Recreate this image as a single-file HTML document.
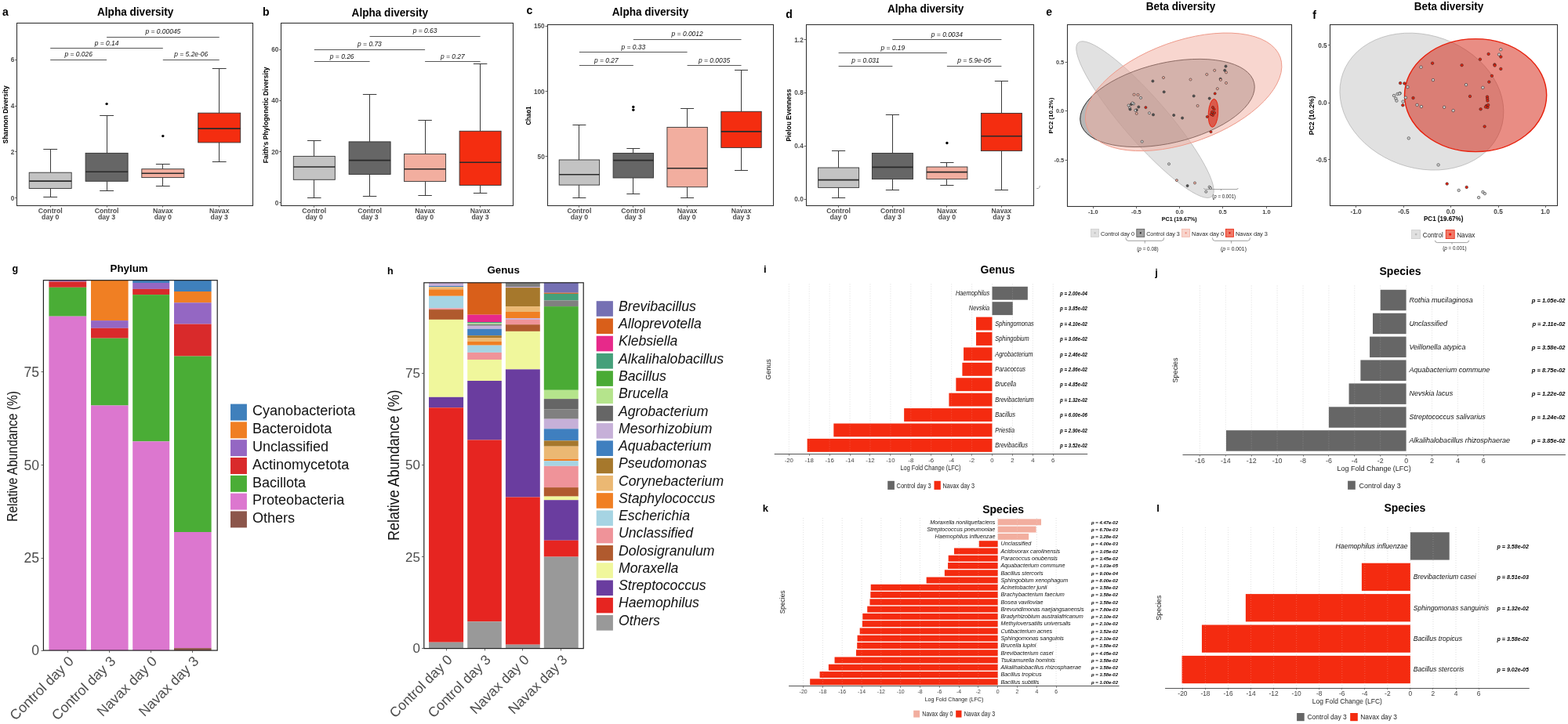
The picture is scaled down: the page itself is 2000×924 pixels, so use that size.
<!DOCTYPE html>
<html><head><meta charset="utf-8"><title>Figure</title>
<style>html,body{margin:0;padding:0;background:#fff;overflow:hidden;width:2000px;height:924px;}svg{display:block;}</style>
</head><body>
<svg width="2000" height="924" viewBox="0 0 2000 924" font-family="&quot;Liberation Sans&quot;, Arial, sans-serif">
<rect width="2000" height="924" fill="#fff"/>
<text x="3.00" y="20.00" font-size="14" font-weight="bold">a</text>
<text x="172.70" y="20.30" font-size="14.4" text-anchor="middle" font-weight="bold" textLength="97.40" lengthAdjust="spacingAndGlyphs">Alpha diversity</text>
<line x1="64.50" y1="190.20" x2="64.50" y2="220.20" stroke="#3a3a3a" stroke-width="1"/>
<line x1="64.50" y1="240.50" x2="64.50" y2="251.90" stroke="#3a3a3a" stroke-width="1"/>
<line x1="55.29" y1="190.50" x2="73.11" y2="190.50" stroke="#3a3a3a" stroke-width="1"/>
<line x1="55.29" y1="251.50" x2="73.11" y2="251.50" stroke="#3a3a3a" stroke-width="1"/>
<rect x="37.20" y="220.20" width="54.00" height="20.30" fill="#c3c3c3" stroke="#333" stroke-width="0.9"/>
<line x1="37.20" y1="231.10" x2="91.20" y2="231.10" stroke="#2a2a2a" stroke-width="1.6"/>
<line x1="136.50" y1="147.50" x2="136.50" y2="195.40" stroke="#3a3a3a" stroke-width="1"/>
<line x1="136.50" y1="231.30" x2="136.50" y2="243.40" stroke="#3a3a3a" stroke-width="1"/>
<line x1="127.19" y1="147.50" x2="145.01" y2="147.50" stroke="#3a3a3a" stroke-width="1"/>
<line x1="127.19" y1="243.50" x2="145.01" y2="243.50" stroke="#3a3a3a" stroke-width="1"/>
<rect x="109.10" y="195.40" width="54.00" height="35.90" fill="#666666" stroke="#333" stroke-width="0.9"/>
<line x1="109.10" y1="219.20" x2="163.10" y2="219.20" stroke="#2a2a2a" stroke-width="1.6"/>
<circle cx="136.10" cy="132.60" r="1.7" fill="#000"/>
<line x1="207.50" y1="209.50" x2="207.50" y2="215.70" stroke="#3a3a3a" stroke-width="1"/>
<line x1="207.50" y1="226.60" x2="207.50" y2="237.50" stroke="#3a3a3a" stroke-width="1"/>
<line x1="198.89" y1="209.50" x2="216.71" y2="209.50" stroke="#3a3a3a" stroke-width="1"/>
<line x1="198.89" y1="237.50" x2="216.71" y2="237.50" stroke="#3a3a3a" stroke-width="1"/>
<rect x="180.80" y="215.70" width="54.00" height="10.90" fill="#f2ae9f" stroke="#333" stroke-width="0.9"/>
<line x1="180.80" y1="221.20" x2="234.80" y2="221.20" stroke="#2a2a2a" stroke-width="1.6"/>
<circle cx="207.80" cy="173.60" r="1.7" fill="#000"/>
<line x1="279.50" y1="87.50" x2="279.50" y2="144.20" stroke="#3a3a3a" stroke-width="1"/>
<line x1="279.50" y1="181.90" x2="279.50" y2="206.50" stroke="#3a3a3a" stroke-width="1"/>
<line x1="270.79" y1="87.50" x2="288.61" y2="87.50" stroke="#3a3a3a" stroke-width="1"/>
<line x1="270.79" y1="206.50" x2="288.61" y2="206.50" stroke="#3a3a3a" stroke-width="1"/>
<rect x="252.70" y="144.20" width="54.00" height="37.70" fill="#f42d10" stroke="#333" stroke-width="0.9"/>
<line x1="252.70" y1="164.10" x2="306.70" y2="164.10" stroke="#2a2a2a" stroke-width="1.6"/>
<line x1="64.20" y1="76.50" x2="136.10" y2="76.50" stroke="#444" stroke-width="0.9"/>
<text x="100.15" y="72.30" font-size="8.45" text-anchor="middle" font-style="italic" fill="#111">p = 0.026</text>
<line x1="64.20" y1="61.50" x2="207.80" y2="61.50" stroke="#444" stroke-width="0.9"/>
<text x="136.00" y="57.50" font-size="8.45" text-anchor="middle" font-style="italic" fill="#111">p = 0.14</text>
<line x1="136.10" y1="47.50" x2="279.70" y2="47.50" stroke="#444" stroke-width="0.9"/>
<text x="207.90" y="43.10" font-size="8.45" text-anchor="middle" font-style="italic" fill="#111">p = 0.00045</text>
<line x1="207.80" y1="76.50" x2="279.70" y2="76.50" stroke="#444" stroke-width="0.9"/>
<text x="243.75" y="72.30" font-size="8.45" text-anchor="middle" font-style="italic" fill="#111">p = 5.2e-06</text>
<rect x="21.50" y="29.50" width="301.00" height="233.00" fill="none" stroke="#333" stroke-width="1.1"/>
<line x1="19.00" y1="252.50" x2="21.50" y2="252.50" stroke="#444" stroke-width="0.8"/>
<text x="18.20" y="255.50" font-size="8.2" text-anchor="end" font-weight="bold" fill="#4d4d4d">0</text>
<line x1="19.00" y1="193.50" x2="21.50" y2="193.50" stroke="#444" stroke-width="0.8"/>
<text x="18.20" y="196.60" font-size="8.2" text-anchor="end" font-weight="bold" fill="#4d4d4d">2</text>
<line x1="19.00" y1="135.50" x2="21.50" y2="135.50" stroke="#444" stroke-width="0.8"/>
<text x="18.20" y="138.10" font-size="8.2" text-anchor="end" font-weight="bold" fill="#4d4d4d">4</text>
<line x1="19.00" y1="76.50" x2="21.50" y2="76.50" stroke="#444" stroke-width="0.8"/>
<text x="18.20" y="79.20" font-size="8.2" text-anchor="end" font-weight="bold" fill="#4d4d4d">6</text>
<line x1="64.50" y1="262.10" x2="64.50" y2="264.60" stroke="#444" stroke-width="0.8"/>
<text x="64.20" y="271.70" font-size="8.7" text-anchor="middle" font-weight="bold" fill="#4d4d4d">Control</text>
<text x="64.20" y="280.30" font-size="8.7" text-anchor="middle" font-weight="bold" fill="#4d4d4d">day 0</text>
<line x1="136.50" y1="262.10" x2="136.50" y2="264.60" stroke="#444" stroke-width="0.8"/>
<text x="136.10" y="271.70" font-size="8.7" text-anchor="middle" font-weight="bold" fill="#4d4d4d">Control</text>
<text x="136.10" y="280.30" font-size="8.7" text-anchor="middle" font-weight="bold" fill="#4d4d4d">day 3</text>
<line x1="207.50" y1="262.10" x2="207.50" y2="264.60" stroke="#444" stroke-width="0.8"/>
<text x="207.80" y="271.70" font-size="8.7" text-anchor="middle" font-weight="bold" fill="#4d4d4d">Navax</text>
<text x="207.80" y="280.30" font-size="8.7" text-anchor="middle" font-weight="bold" fill="#4d4d4d">day 0</text>
<line x1="279.50" y1="262.10" x2="279.50" y2="264.60" stroke="#444" stroke-width="0.8"/>
<text x="279.70" y="271.70" font-size="8.7" text-anchor="middle" font-weight="bold" fill="#4d4d4d">Navax</text>
<text x="279.70" y="280.30" font-size="8.7" text-anchor="middle" font-weight="bold" fill="#4d4d4d">day 3</text>
<text x="9.70" y="146.20" font-size="8.4" text-anchor="middle" font-weight="bold" textLength="74.00" lengthAdjust="spacingAndGlyphs" transform="rotate(-90 9.70 146.20)">Shannon Diversity</text>
<text x="334.90" y="20.00" font-size="14" font-weight="bold">b</text>
<text x="497.30" y="21.30" font-size="14.4" text-anchor="middle" font-weight="bold" textLength="97.40" lengthAdjust="spacingAndGlyphs">Alpha diversity</text>
<line x1="400.50" y1="179.30" x2="400.50" y2="199.40" stroke="#3a3a3a" stroke-width="1"/>
<line x1="400.50" y1="229.30" x2="400.50" y2="252.40" stroke="#3a3a3a" stroke-width="1"/>
<line x1="392.06" y1="179.50" x2="409.55" y2="179.50" stroke="#3a3a3a" stroke-width="1"/>
<line x1="392.06" y1="252.50" x2="409.55" y2="252.50" stroke="#3a3a3a" stroke-width="1"/>
<rect x="374.30" y="199.40" width="53.00" height="29.90" fill="#c3c3c3" stroke="#333" stroke-width="0.9"/>
<line x1="374.30" y1="213.00" x2="427.30" y2="213.00" stroke="#2a2a2a" stroke-width="1.6"/>
<line x1="471.50" y1="120.50" x2="471.50" y2="180.90" stroke="#3a3a3a" stroke-width="1"/>
<line x1="471.50" y1="222.50" x2="471.50" y2="250.40" stroke="#3a3a3a" stroke-width="1"/>
<line x1="462.86" y1="120.50" x2="480.35" y2="120.50" stroke="#3a3a3a" stroke-width="1"/>
<line x1="462.86" y1="250.50" x2="480.35" y2="250.50" stroke="#3a3a3a" stroke-width="1"/>
<rect x="445.10" y="180.90" width="53.00" height="41.60" fill="#666666" stroke="#333" stroke-width="0.9"/>
<line x1="445.10" y1="204.60" x2="498.10" y2="204.60" stroke="#2a2a2a" stroke-width="1.6"/>
<line x1="542.50" y1="153.60" x2="542.50" y2="196.50" stroke="#3a3a3a" stroke-width="1"/>
<line x1="542.50" y1="231.60" x2="542.50" y2="249.40" stroke="#3a3a3a" stroke-width="1"/>
<line x1="533.36" y1="153.50" x2="550.85" y2="153.50" stroke="#3a3a3a" stroke-width="1"/>
<line x1="533.36" y1="249.50" x2="550.85" y2="249.50" stroke="#3a3a3a" stroke-width="1"/>
<rect x="515.60" y="196.50" width="53.00" height="35.10" fill="#f2ae9f" stroke="#333" stroke-width="0.9"/>
<line x1="515.60" y1="215.70" x2="568.60" y2="215.70" stroke="#2a2a2a" stroke-width="1.6"/>
<line x1="612.50" y1="81.20" x2="612.50" y2="167.30" stroke="#3a3a3a" stroke-width="1"/>
<line x1="612.50" y1="236.40" x2="612.50" y2="246.80" stroke="#3a3a3a" stroke-width="1"/>
<line x1="603.86" y1="81.50" x2="621.35" y2="81.50" stroke="#3a3a3a" stroke-width="1"/>
<line x1="603.86" y1="246.50" x2="621.35" y2="246.50" stroke="#3a3a3a" stroke-width="1"/>
<rect x="586.10" y="167.30" width="53.00" height="69.10" fill="#f42d10" stroke="#333" stroke-width="0.9"/>
<line x1="586.10" y1="207.20" x2="639.10" y2="207.20" stroke="#2a2a2a" stroke-width="1.6"/>
<line x1="400.80" y1="78.50" x2="471.60" y2="78.50" stroke="#444" stroke-width="0.9"/>
<text x="436.20" y="74.90" font-size="8.45" text-anchor="middle" font-style="italic" fill="#111">p = 0.26</text>
<line x1="400.80" y1="63.50" x2="542.10" y2="63.50" stroke="#444" stroke-width="0.9"/>
<text x="471.45" y="59.00" font-size="8.45" text-anchor="middle" font-style="italic" fill="#111">p = 0.73</text>
<line x1="471.60" y1="46.50" x2="612.60" y2="46.50" stroke="#444" stroke-width="0.9"/>
<text x="542.10" y="42.40" font-size="8.45" text-anchor="middle" font-style="italic" fill="#111">p = 0.63</text>
<line x1="542.10" y1="78.50" x2="612.60" y2="78.50" stroke="#444" stroke-width="0.9"/>
<text x="577.35" y="74.90" font-size="8.45" text-anchor="middle" font-style="italic" fill="#111">p = 0.27</text>
<rect x="358.50" y="29.50" width="296.00" height="233.00" fill="none" stroke="#333" stroke-width="1.1"/>
<line x1="356.10" y1="258.50" x2="358.60" y2="258.50" stroke="#444" stroke-width="0.8"/>
<text x="355.30" y="261.80" font-size="8.2" text-anchor="end" font-weight="bold" fill="#4d4d4d">0</text>
<line x1="356.10" y1="193.50" x2="358.60" y2="193.50" stroke="#444" stroke-width="0.8"/>
<text x="355.30" y="196.50" font-size="8.2" text-anchor="end" font-weight="bold" fill="#4d4d4d">20</text>
<line x1="356.10" y1="128.50" x2="358.60" y2="128.50" stroke="#444" stroke-width="0.8"/>
<text x="355.30" y="131.20" font-size="8.2" text-anchor="end" font-weight="bold" fill="#4d4d4d">40</text>
<line x1="356.10" y1="63.50" x2="358.60" y2="63.50" stroke="#444" stroke-width="0.8"/>
<text x="355.30" y="65.90" font-size="8.2" text-anchor="end" font-weight="bold" fill="#4d4d4d">60</text>
<line x1="400.50" y1="262.40" x2="400.50" y2="264.90" stroke="#444" stroke-width="0.8"/>
<text x="400.80" y="271.70" font-size="8.7" text-anchor="middle" font-weight="bold" fill="#4d4d4d">Control</text>
<text x="400.80" y="280.30" font-size="8.7" text-anchor="middle" font-weight="bold" fill="#4d4d4d">day 0</text>
<line x1="471.50" y1="262.40" x2="471.50" y2="264.90" stroke="#444" stroke-width="0.8"/>
<text x="471.60" y="271.70" font-size="8.7" text-anchor="middle" font-weight="bold" fill="#4d4d4d">Control</text>
<text x="471.60" y="280.30" font-size="8.7" text-anchor="middle" font-weight="bold" fill="#4d4d4d">day 3</text>
<line x1="542.50" y1="262.40" x2="542.50" y2="264.90" stroke="#444" stroke-width="0.8"/>
<text x="542.10" y="271.70" font-size="8.7" text-anchor="middle" font-weight="bold" fill="#4d4d4d">Navax</text>
<text x="542.10" y="280.30" font-size="8.7" text-anchor="middle" font-weight="bold" fill="#4d4d4d">day 0</text>
<line x1="612.50" y1="262.40" x2="612.50" y2="264.90" stroke="#444" stroke-width="0.8"/>
<text x="612.60" y="271.70" font-size="8.7" text-anchor="middle" font-weight="bold" fill="#4d4d4d">Navax</text>
<text x="612.60" y="280.30" font-size="8.7" text-anchor="middle" font-weight="bold" fill="#4d4d4d">day 3</text>
<text x="342.50" y="146.80" font-size="8.4" text-anchor="middle" font-weight="bold" textLength="122.80" lengthAdjust="spacingAndGlyphs" transform="rotate(-90 342.50 146.80)">Faith's Phylogenetic Diversity</text>
<text x="671.40" y="18.00" font-size="14" font-weight="bold">c</text>
<text x="829.50" y="19.50" font-size="14.4" text-anchor="middle" font-weight="bold" textLength="97.40" lengthAdjust="spacingAndGlyphs">Alpha diversity</text>
<line x1="738.50" y1="159.80" x2="738.50" y2="204.00" stroke="#3a3a3a" stroke-width="1"/>
<line x1="738.50" y1="236.10" x2="738.50" y2="252.40" stroke="#3a3a3a" stroke-width="1"/>
<line x1="730.42" y1="159.50" x2="747.38" y2="159.50" stroke="#3a3a3a" stroke-width="1"/>
<line x1="730.42" y1="252.50" x2="747.38" y2="252.50" stroke="#3a3a3a" stroke-width="1"/>
<rect x="713.20" y="204.00" width="51.40" height="32.10" fill="#c3c3c3" stroke="#333" stroke-width="0.9"/>
<line x1="713.20" y1="222.80" x2="764.60" y2="222.80" stroke="#2a2a2a" stroke-width="1.6"/>
<line x1="807.50" y1="189.70" x2="807.50" y2="195.50" stroke="#3a3a3a" stroke-width="1"/>
<line x1="807.50" y1="227.00" x2="807.50" y2="247.80" stroke="#3a3a3a" stroke-width="1"/>
<line x1="799.32" y1="189.50" x2="816.28" y2="189.50" stroke="#3a3a3a" stroke-width="1"/>
<line x1="799.32" y1="247.50" x2="816.28" y2="247.50" stroke="#3a3a3a" stroke-width="1"/>
<rect x="782.10" y="195.50" width="51.40" height="31.50" fill="#666666" stroke="#333" stroke-width="0.9"/>
<line x1="782.10" y1="204.60" x2="833.50" y2="204.60" stroke="#2a2a2a" stroke-width="1.6"/>
<circle cx="807.80" cy="136.40" r="1.7" fill="#000"/>
<circle cx="807.80" cy="140.30" r="1.7" fill="#000"/>
<line x1="876.50" y1="138.40" x2="876.50" y2="162.40" stroke="#3a3a3a" stroke-width="1"/>
<line x1="876.50" y1="238.70" x2="876.50" y2="252.40" stroke="#3a3a3a" stroke-width="1"/>
<line x1="868.12" y1="138.50" x2="885.08" y2="138.50" stroke="#3a3a3a" stroke-width="1"/>
<line x1="868.12" y1="252.50" x2="885.08" y2="252.50" stroke="#3a3a3a" stroke-width="1"/>
<rect x="850.90" y="162.40" width="51.40" height="76.30" fill="#f2ae9f" stroke="#333" stroke-width="0.9"/>
<line x1="850.90" y1="214.70" x2="902.30" y2="214.70" stroke="#2a2a2a" stroke-width="1.6"/>
<line x1="945.50" y1="89.00" x2="945.50" y2="142.30" stroke="#3a3a3a" stroke-width="1"/>
<line x1="945.50" y1="188.40" x2="945.50" y2="217.00" stroke="#3a3a3a" stroke-width="1"/>
<line x1="937.02" y1="89.50" x2="953.98" y2="89.50" stroke="#3a3a3a" stroke-width="1"/>
<line x1="937.02" y1="217.50" x2="953.98" y2="217.50" stroke="#3a3a3a" stroke-width="1"/>
<rect x="919.80" y="142.30" width="51.40" height="46.10" fill="#f42d10" stroke="#333" stroke-width="0.9"/>
<line x1="919.80" y1="167.90" x2="971.20" y2="167.90" stroke="#2a2a2a" stroke-width="1.6"/>
<line x1="738.90" y1="83.50" x2="807.80" y2="83.50" stroke="#444" stroke-width="0.9"/>
<text x="773.35" y="79.50" font-size="8.45" text-anchor="middle" font-style="italic" fill="#111">p = 0.27</text>
<line x1="738.90" y1="66.50" x2="876.60" y2="66.50" stroke="#444" stroke-width="0.9"/>
<text x="807.75" y="62.90" font-size="8.45" text-anchor="middle" font-style="italic" fill="#111">p = 0.33</text>
<line x1="807.80" y1="50.50" x2="945.50" y2="50.50" stroke="#444" stroke-width="0.9"/>
<text x="876.65" y="46.30" font-size="8.45" text-anchor="middle" font-style="italic" fill="#111">p = 0.0012</text>
<line x1="876.60" y1="83.50" x2="945.50" y2="83.50" stroke="#444" stroke-width="0.9"/>
<text x="911.05" y="79.50" font-size="8.45" text-anchor="middle" font-style="italic" fill="#111">p = 0.0035</text>
<rect x="698.50" y="31.50" width="288.00" height="231.00" fill="none" stroke="#333" stroke-width="1.1"/>
<line x1="695.50" y1="199.50" x2="698.00" y2="199.50" stroke="#444" stroke-width="0.8"/>
<text x="694.70" y="202.60" font-size="8.2" text-anchor="end" font-weight="bold" fill="#4d4d4d">50</text>
<line x1="695.50" y1="116.50" x2="698.00" y2="116.50" stroke="#444" stroke-width="0.8"/>
<text x="694.70" y="119.50" font-size="8.2" text-anchor="end" font-weight="bold" fill="#4d4d4d">100</text>
<line x1="695.50" y1="33.50" x2="698.00" y2="33.50" stroke="#444" stroke-width="0.8"/>
<text x="694.70" y="36.00" font-size="8.2" text-anchor="end" font-weight="bold" fill="#4d4d4d">150</text>
<line x1="738.50" y1="262.40" x2="738.50" y2="264.90" stroke="#444" stroke-width="0.8"/>
<text x="738.90" y="271.70" font-size="8.7" text-anchor="middle" font-weight="bold" fill="#4d4d4d">Control</text>
<text x="738.90" y="280.30" font-size="8.7" text-anchor="middle" font-weight="bold" fill="#4d4d4d">day 0</text>
<line x1="807.50" y1="262.40" x2="807.50" y2="264.90" stroke="#444" stroke-width="0.8"/>
<text x="807.80" y="271.70" font-size="8.7" text-anchor="middle" font-weight="bold" fill="#4d4d4d">Control</text>
<text x="807.80" y="280.30" font-size="8.7" text-anchor="middle" font-weight="bold" fill="#4d4d4d">day 3</text>
<line x1="876.50" y1="262.40" x2="876.50" y2="264.90" stroke="#444" stroke-width="0.8"/>
<text x="876.60" y="271.70" font-size="8.7" text-anchor="middle" font-weight="bold" fill="#4d4d4d">Navax</text>
<text x="876.60" y="280.30" font-size="8.7" text-anchor="middle" font-weight="bold" fill="#4d4d4d">day 0</text>
<line x1="945.50" y1="262.40" x2="945.50" y2="264.90" stroke="#444" stroke-width="0.8"/>
<text x="945.50" y="271.70" font-size="8.7" text-anchor="middle" font-weight="bold" fill="#4d4d4d">Navax</text>
<text x="945.50" y="280.30" font-size="8.7" text-anchor="middle" font-weight="bold" fill="#4d4d4d">day 3</text>
<text x="677.50" y="147.60" font-size="8.4" text-anchor="middle" font-weight="bold" textLength="23.80" lengthAdjust="spacingAndGlyphs" transform="rotate(-90 677.50 147.60)">Chao1</text>
<text x="1002.30" y="23.40" font-size="14" font-weight="bold">d</text>
<text x="1180.60" y="16.20" font-size="14.4" text-anchor="middle" font-weight="bold" textLength="97.40" lengthAdjust="spacingAndGlyphs">Alpha diversity</text>
<line x1="1069.50" y1="192.60" x2="1069.50" y2="214.00" stroke="#3a3a3a" stroke-width="1"/>
<line x1="1069.50" y1="239.40" x2="1069.50" y2="252.40" stroke="#3a3a3a" stroke-width="1"/>
<line x1="1061.02" y1="192.50" x2="1078.18" y2="192.50" stroke="#3a3a3a" stroke-width="1"/>
<line x1="1061.02" y1="252.50" x2="1078.18" y2="252.50" stroke="#3a3a3a" stroke-width="1"/>
<rect x="1043.60" y="214.00" width="52.00" height="25.40" fill="#c3c3c3" stroke="#333" stroke-width="0.9"/>
<line x1="1043.60" y1="229.60" x2="1095.60" y2="229.60" stroke="#2a2a2a" stroke-width="1.6"/>
<line x1="1138.50" y1="146.50" x2="1138.50" y2="195.50" stroke="#3a3a3a" stroke-width="1"/>
<line x1="1138.50" y1="228.60" x2="1138.50" y2="242.00" stroke="#3a3a3a" stroke-width="1"/>
<line x1="1129.82" y1="146.50" x2="1146.98" y2="146.50" stroke="#3a3a3a" stroke-width="1"/>
<line x1="1129.82" y1="242.50" x2="1146.98" y2="242.50" stroke="#3a3a3a" stroke-width="1"/>
<rect x="1112.40" y="195.50" width="52.00" height="33.10" fill="#666666" stroke="#333" stroke-width="0.9"/>
<line x1="1112.40" y1="213.40" x2="1164.40" y2="213.40" stroke="#2a2a2a" stroke-width="1.6"/>
<line x1="1207.50" y1="207.50" x2="1207.50" y2="213.00" stroke="#3a3a3a" stroke-width="1"/>
<line x1="1207.50" y1="228.60" x2="1207.50" y2="236.80" stroke="#3a3a3a" stroke-width="1"/>
<line x1="1199.32" y1="207.50" x2="1216.48" y2="207.50" stroke="#3a3a3a" stroke-width="1"/>
<line x1="1199.32" y1="236.50" x2="1216.48" y2="236.50" stroke="#3a3a3a" stroke-width="1"/>
<rect x="1181.90" y="213.00" width="52.00" height="15.60" fill="#f2ae9f" stroke="#333" stroke-width="0.9"/>
<line x1="1181.90" y1="219.60" x2="1233.90" y2="219.60" stroke="#2a2a2a" stroke-width="1.6"/>
<circle cx="1207.90" cy="182.50" r="1.7" fill="#000"/>
<line x1="1277.50" y1="103.60" x2="1277.50" y2="144.50" stroke="#3a3a3a" stroke-width="1"/>
<line x1="1277.50" y1="192.60" x2="1277.50" y2="242.00" stroke="#3a3a3a" stroke-width="1"/>
<line x1="1268.82" y1="103.50" x2="1285.98" y2="103.50" stroke="#3a3a3a" stroke-width="1"/>
<line x1="1268.82" y1="242.50" x2="1285.98" y2="242.50" stroke="#3a3a3a" stroke-width="1"/>
<rect x="1251.40" y="144.50" width="52.00" height="48.10" fill="#f42d10" stroke="#333" stroke-width="0.9"/>
<line x1="1251.40" y1="173.80" x2="1303.40" y2="173.80" stroke="#2a2a2a" stroke-width="1.6"/>
<line x1="1069.60" y1="84.50" x2="1138.40" y2="84.50" stroke="#444" stroke-width="0.9"/>
<text x="1104.00" y="80.10" font-size="8.45" text-anchor="middle" font-style="italic" fill="#111">p = 0.031</text>
<line x1="1069.60" y1="67.50" x2="1207.90" y2="67.50" stroke="#444" stroke-width="0.9"/>
<text x="1138.75" y="63.60" font-size="8.45" text-anchor="middle" font-style="italic" fill="#111">p = 0.19</text>
<line x1="1138.40" y1="50.50" x2="1277.40" y2="50.50" stroke="#444" stroke-width="0.9"/>
<text x="1207.90" y="46.70" font-size="8.45" text-anchor="middle" font-style="italic" fill="#111">p = 0.0034</text>
<line x1="1207.90" y1="84.50" x2="1277.40" y2="84.50" stroke="#444" stroke-width="0.9"/>
<text x="1242.65" y="80.10" font-size="8.45" text-anchor="middle" font-style="italic" fill="#111">p = 5.9e-05</text>
<rect x="1028.50" y="31.50" width="290.00" height="231.00" fill="none" stroke="#333" stroke-width="1.1"/>
<line x1="1025.50" y1="254.50" x2="1028.00" y2="254.50" stroke="#444" stroke-width="0.8"/>
<text x="1024.70" y="256.90" font-size="8.2" text-anchor="end" font-weight="bold" fill="#4d4d4d">0.0</text>
<line x1="1025.50" y1="186.50" x2="1028.00" y2="186.50" stroke="#444" stroke-width="0.8"/>
<text x="1024.70" y="189.00" font-size="8.2" text-anchor="end" font-weight="bold" fill="#4d4d4d">0.4</text>
<line x1="1025.50" y1="118.50" x2="1028.00" y2="118.50" stroke="#444" stroke-width="0.8"/>
<text x="1024.70" y="121.10" font-size="8.2" text-anchor="end" font-weight="bold" fill="#4d4d4d">0.8</text>
<line x1="1025.50" y1="50.50" x2="1028.00" y2="50.50" stroke="#444" stroke-width="0.8"/>
<text x="1024.70" y="53.60" font-size="8.2" text-anchor="end" font-weight="bold" fill="#4d4d4d">1.2</text>
<line x1="1069.50" y1="262.40" x2="1069.50" y2="264.90" stroke="#444" stroke-width="0.8"/>
<text x="1069.60" y="271.70" font-size="8.7" text-anchor="middle" font-weight="bold" fill="#4d4d4d">Control</text>
<text x="1069.60" y="280.30" font-size="8.7" text-anchor="middle" font-weight="bold" fill="#4d4d4d">day 0</text>
<line x1="1138.50" y1="262.40" x2="1138.50" y2="264.90" stroke="#444" stroke-width="0.8"/>
<text x="1138.40" y="271.70" font-size="8.7" text-anchor="middle" font-weight="bold" fill="#4d4d4d">Control</text>
<text x="1138.40" y="280.30" font-size="8.7" text-anchor="middle" font-weight="bold" fill="#4d4d4d">day 3</text>
<line x1="1207.50" y1="262.40" x2="1207.50" y2="264.90" stroke="#444" stroke-width="0.8"/>
<text x="1207.90" y="271.70" font-size="8.7" text-anchor="middle" font-weight="bold" fill="#4d4d4d">Navax</text>
<text x="1207.90" y="280.30" font-size="8.7" text-anchor="middle" font-weight="bold" fill="#4d4d4d">day 0</text>
<line x1="1277.50" y1="262.40" x2="1277.50" y2="264.90" stroke="#444" stroke-width="0.8"/>
<text x="1277.40" y="271.70" font-size="8.7" text-anchor="middle" font-weight="bold" fill="#4d4d4d">Navax</text>
<text x="1277.40" y="280.30" font-size="8.7" text-anchor="middle" font-weight="bold" fill="#4d4d4d">day 3</text>
<text x="1009.20" y="147.00" font-size="8.4" text-anchor="middle" font-weight="bold" textLength="67.00" lengthAdjust="spacingAndGlyphs" transform="rotate(-90 1009.20 147.00)">Pielou Evenness</text>
<path d="M1322.2,240.6 L1324.6,240.4 Q1326,240.1 1326.3,236.9" fill="none" stroke="#999" stroke-width="0.9"/>
<text x="1334.30" y="19.60" font-size="14" font-weight="bold">e</text>
<text x="1506.00" y="13.40" font-size="14.4" text-anchor="middle" font-weight="bold" textLength="88.60" lengthAdjust="spacingAndGlyphs">Beta diversity</text>
<ellipse cx="1460.50" cy="152.60" rx="130.00" ry="28.00" transform="rotate(49.06 1460.50 152.60)" fill="#c4c4c4" fill-opacity="0.5" stroke="#aaa" stroke-opacity="1" stroke-width="0.6"/>
<ellipse cx="1489.00" cy="131.45" rx="113.60" ry="51.20" transform="rotate(-13.06 1489.00 131.45)" fill="#6d6d6d" fill-opacity="0.5" stroke="#222" stroke-opacity="1" stroke-width="0.9"/>
<ellipse cx="1509.65" cy="117.35" rx="131.05" ry="64.70" transform="rotate(-19.77 1509.65 117.35)" fill="#f2ae9f" fill-opacity="0.5" stroke="#ee9a8a" stroke-opacity="1" stroke-width="0.9"/>
<ellipse cx="1547.50" cy="144.30" rx="6.20" ry="18.00" transform="rotate(4 1547.50 144.30)" fill="#e0200c" fill-opacity="0.6" stroke="#e8200c" stroke-opacity="1" stroke-width="0.9"/>
<circle cx="1563.50" cy="84.60" r="1.55" fill="#555555" stroke="#222" stroke-width="0.55"/>
<circle cx="1562.20" cy="89.80" r="1.55" fill="#555555" stroke="#222" stroke-width="0.55"/>
<circle cx="1564.00" cy="92.40" r="1.55" fill="#f2ae9f" stroke="#222" stroke-width="0.55"/>
<circle cx="1549.20" cy="89.80" r="1.55" fill="#f2ae9f" stroke="#222" stroke-width="0.55"/>
<circle cx="1539.30" cy="95.00" r="1.55" fill="#f2ae9f" stroke="#222" stroke-width="0.55"/>
<circle cx="1556.70" cy="100.70" r="1.55" fill="#555555" stroke="#222" stroke-width="0.55"/>
<circle cx="1556.90" cy="101.90" r="1.55" fill="#f2ae9f" stroke="#222" stroke-width="0.55"/>
<circle cx="1564.00" cy="105.90" r="1.55" fill="#f2ae9f" stroke="#222" stroke-width="0.55"/>
<circle cx="1552.80" cy="113.20" r="1.55" fill="#f2ae9f" stroke="#222" stroke-width="0.55"/>
<circle cx="1549.70" cy="119.40" r="1.55" fill="#e8200c" stroke="#222" stroke-width="0.55"/>
<circle cx="1542.70" cy="125.60" r="1.55" fill="#555555" stroke="#222" stroke-width="0.55"/>
<circle cx="1522.70" cy="122.50" r="1.55" fill="#555555" stroke="#222" stroke-width="0.55"/>
<circle cx="1518.50" cy="101.50" r="1.55" fill="#f2ae9f" stroke="#222" stroke-width="0.55"/>
<circle cx="1527.60" cy="135.00" r="1.55" fill="#f2ae9f" stroke="#222" stroke-width="0.55"/>
<circle cx="1539.80" cy="149.00" r="1.55" fill="#e8200c" stroke="#222" stroke-width="0.55"/>
<circle cx="1544.50" cy="168.30" r="1.55" fill="#e8200c" stroke="#222" stroke-width="0.55"/>
<circle cx="1547.00" cy="137.00" r="1.55" fill="#e8200c" stroke="#222" stroke-width="0.55"/>
<circle cx="1548.50" cy="139.50" r="1.55" fill="#e8200c" stroke="#222" stroke-width="0.55"/>
<circle cx="1546.00" cy="143.00" r="1.55" fill="#e8200c" stroke="#222" stroke-width="0.55"/>
<circle cx="1549.00" cy="144.00" r="1.55" fill="#e8200c" stroke="#222" stroke-width="0.55"/>
<circle cx="1547.00" cy="147.00" r="1.55" fill="#e8200c" stroke="#222" stroke-width="0.55"/>
<circle cx="1545.00" cy="146.00" r="1.55" fill="#e8200c" stroke="#222" stroke-width="0.55"/>
<circle cx="1508.10" cy="150.60" r="1.55" fill="#555555" stroke="#222" stroke-width="0.55"/>
<circle cx="1497.20" cy="147.00" r="1.55" fill="#555555" stroke="#222" stroke-width="0.55"/>
<circle cx="1484.00" cy="99.10" r="1.55" fill="#f2ae9f" stroke="#222" stroke-width="0.55"/>
<circle cx="1484.70" cy="117.30" r="1.55" fill="#555555" stroke="#222" stroke-width="0.55"/>
<circle cx="1470.40" cy="103.50" r="1.55" fill="#555555" stroke="#222" stroke-width="0.55"/>
<circle cx="1471.00" cy="146.40" r="1.55" fill="#555555" stroke="#222" stroke-width="0.55"/>
<circle cx="1466.00" cy="144.30" r="1.55" fill="#d0d0d0" stroke="#222" stroke-width="0.55"/>
<circle cx="1461.40" cy="137.10" r="1.55" fill="#e8200c" stroke="#222" stroke-width="0.55"/>
<circle cx="1455.10" cy="124.90" r="1.55" fill="#d0d0d0" stroke="#222" stroke-width="0.55"/>
<circle cx="1451.50" cy="121.00" r="1.55" fill="#f2ae9f" stroke="#222" stroke-width="0.55"/>
<circle cx="1446.50" cy="120.70" r="1.55" fill="#f2ae9f" stroke="#222" stroke-width="0.55"/>
<circle cx="1452.30" cy="136.50" r="1.55" fill="#555555" stroke="#222" stroke-width="0.55"/>
<circle cx="1449.70" cy="140.40" r="1.55" fill="#555555" stroke="#222" stroke-width="0.55"/>
<circle cx="1449.70" cy="144.90" r="1.55" fill="#f2ae9f" stroke="#222" stroke-width="0.55"/>
<circle cx="1439.50" cy="134.50" r="1.55" fill="#d0d0d0" stroke="#222" stroke-width="0.55"/>
<circle cx="1441.00" cy="137.50" r="1.55" fill="#d0d0d0" stroke="#222" stroke-width="0.55"/>
<circle cx="1443.00" cy="133.00" r="1.55" fill="#555555" stroke="#222" stroke-width="0.55"/>
<circle cx="1446.00" cy="132.50" r="1.55" fill="#d0d0d0" stroke="#222" stroke-width="0.55"/>
<circle cx="1441.50" cy="139.50" r="1.55" fill="#555555" stroke="#222" stroke-width="0.55"/>
<circle cx="1444.50" cy="131.50" r="1.55" fill="#d0d0d0" stroke="#222" stroke-width="0.55"/>
<circle cx="1448.20" cy="140.80" r="1.55" fill="#d0d0d0" stroke="#222" stroke-width="0.55"/>
<circle cx="1456.70" cy="180.70" r="1.55" fill="#d0d0d0" stroke="#222" stroke-width="0.55"/>
<circle cx="1491.00" cy="209.30" r="1.55" fill="#d0d0d0" stroke="#222" stroke-width="0.55"/>
<circle cx="1500.90" cy="230.10" r="1.55" fill="#f2ae9f" stroke="#222" stroke-width="0.55"/>
<circle cx="1514.60" cy="237.10" r="1.55" fill="#555555" stroke="#222" stroke-width="0.55"/>
<circle cx="1524.00" cy="233.50" r="1.55" fill="#f2ae9f" stroke="#222" stroke-width="0.55"/>
<circle cx="1542.60" cy="238.60" r="1.55" fill="#d0d0d0" stroke="#222" stroke-width="0.55"/>
<circle cx="1544.00" cy="240.00" r="1.55" fill="#d0d0d0" stroke="#222" stroke-width="0.55"/>
<circle cx="1538.30" cy="244.70" r="1.55" fill="#d0d0d0" stroke="#222" stroke-width="0.55"/>
<path d="M1535.3,240.3 Q1536,241.6 1537.5,241.6 L1577,241.6 Q1579,241.6 1579.2,240 M1557.5,241.6 L1557.5,243" fill="none" stroke="#888" stroke-width="0.8"/>
<text x="1561.20" y="252.80" font-size="6.8" text-anchor="middle" fill="#222" textLength="30.00" lengthAdjust="spacingAndGlyphs">(<tspan font-style="italic">p</tspan> = 0.001)</text>
<rect x="1361.50" y="31.50" width="286.00" height="232.00" fill="none" stroke="#333" stroke-width="1.1"/>
<line x1="1394.50" y1="263.60" x2="1394.50" y2="266.10" stroke="#444" stroke-width="0.8"/>
<text x="1394.30" y="272.50" font-size="7.4" text-anchor="middle" font-weight="bold" fill="#444">-1.0</text>
<line x1="1449.50" y1="263.60" x2="1449.50" y2="266.10" stroke="#444" stroke-width="0.8"/>
<text x="1449.30" y="272.50" font-size="7.4" text-anchor="middle" font-weight="bold" fill="#444">-0.5</text>
<line x1="1504.50" y1="263.60" x2="1504.50" y2="266.10" stroke="#444" stroke-width="0.8"/>
<text x="1504.60" y="272.50" font-size="7.4" text-anchor="middle" font-weight="bold" fill="#444">0.0</text>
<line x1="1559.50" y1="263.60" x2="1559.50" y2="266.10" stroke="#444" stroke-width="0.8"/>
<text x="1559.60" y="272.50" font-size="7.4" text-anchor="middle" font-weight="bold" fill="#444">0.5</text>
<line x1="1615.50" y1="263.60" x2="1615.50" y2="266.10" stroke="#444" stroke-width="0.8"/>
<text x="1615.40" y="272.50" font-size="7.4" text-anchor="middle" font-weight="bold" fill="#444">1.0</text>
<line x1="1358.50" y1="79.50" x2="1361.00" y2="79.50" stroke="#444" stroke-width="0.8"/>
<text x="1357.20" y="81.90" font-size="7.4" text-anchor="end" font-weight="bold" fill="#444">0.5</text>
<line x1="1358.50" y1="141.50" x2="1361.00" y2="141.50" stroke="#444" stroke-width="0.8"/>
<text x="1357.20" y="144.00" font-size="7.4" text-anchor="end" font-weight="bold" fill="#444">0.0</text>
<line x1="1358.50" y1="204.50" x2="1361.00" y2="204.50" stroke="#444" stroke-width="0.8"/>
<text x="1357.20" y="206.90" font-size="7.4" text-anchor="end" font-weight="bold" fill="#444">-0.5</text>
<text x="1504.20" y="281.90" font-size="8" text-anchor="middle" font-weight="bold" textLength="45.00" lengthAdjust="spacingAndGlyphs">PC1 (19.67%)</text>
<text x="1342.60" y="147.50" font-size="8" text-anchor="middle" font-weight="bold" textLength="45.80" lengthAdjust="spacingAndGlyphs" transform="rotate(-90 1342.60 147.50)">PC2 (10.2%)</text>
<rect x="1391.60" y="292.30" width="10" height="10" fill="#d8d8d8" fill-opacity="0.8" stroke="#ccc" stroke-width="0.8"/>
<circle cx="1396.60" cy="297.30" r="1.1" fill="#bbb"/>
<text x="1404.00" y="300.80" font-size="8.1" fill="#222" textLength="43.00" lengthAdjust="spacingAndGlyphs">Control day 0</text>
<rect x="1449.80" y="292.30" width="10" height="10" fill="#888" fill-opacity="0.8" stroke="#555" stroke-width="0.8"/>
<circle cx="1454.80" cy="297.30" r="1.1" fill="#222"/>
<text x="1462.20" y="300.80" font-size="8.1" fill="#222" textLength="42.60" lengthAdjust="spacingAndGlyphs">Control day 3</text>
<rect x="1507.60" y="292.30" width="10" height="10" fill="#f7cfc6" fill-opacity="0.9" stroke="#f2b3a6" stroke-width="0.8"/>
<circle cx="1512.60" cy="297.30" r="1.1" fill="#f08a78"/>
<text x="1520.10" y="300.80" font-size="8.1" fill="#222" textLength="40.90" lengthAdjust="spacingAndGlyphs">Navax day 0</text>
<rect x="1563.50" y="292.30" width="10" height="10" fill="#ee6b58" fill-opacity="0.9" stroke="#e8200c" stroke-width="0.8"/>
<circle cx="1568.50" cy="297.30" r="1.1" fill="#d00"/>
<text x="1576.00" y="300.80" font-size="8.1" fill="#222" textLength="40.90" lengthAdjust="spacingAndGlyphs">Navax day 3</text>
<path d="M1435.90,303.40 Q1435.90,307.30 1438.90,307.30 L1481.70,307.30 Q1484.70,307.30 1484.70,303.40 M1460.30,307.30 L1460.30,310.50" fill="none" stroke="#777" stroke-width="0.7"/>
<text x="1463.90" y="319.60" font-size="6.4" text-anchor="middle" fill="#222" textLength="27.30" lengthAdjust="spacingAndGlyphs">(<tspan font-style="italic">p</tspan> = 0.08)</text>
<path d="M1546.40,303.40 Q1546.40,307.30 1549.40,307.30 L1591.50,307.30 Q1594.50,307.30 1594.50,303.40 M1570.45,307.30 L1570.45,310.50" fill="none" stroke="#777" stroke-width="0.7"/>
<text x="1573.40" y="319.60" font-size="6.6" text-anchor="middle" fill="#222" textLength="33.00" lengthAdjust="spacingAndGlyphs">(<tspan font-style="italic">p</tspan> = 0.001)</text>
<text x="1674.30" y="24.30" font-size="14" font-weight="bold">f</text>
<text x="1848.00" y="13.10" font-size="14.4" text-anchor="middle" font-weight="bold" textLength="88.60" lengthAdjust="spacingAndGlyphs">Beta diversity</text>
<ellipse cx="1813.40" cy="129.60" rx="106.80" ry="84.60" transform="rotate(19.9 1813.40 129.60)" fill="#c4c4c4" fill-opacity="0.5" stroke="#aaa" stroke-opacity="1" stroke-width="0.6"/>
<ellipse cx="1882.10" cy="121.60" rx="90.60" ry="72.00" transform="rotate(0 1882.10 121.60)" fill="#d41c0a" fill-opacity="0.5" stroke="#e8200c" stroke-opacity="1" stroke-width="1.4"/>
<circle cx="1914.30" cy="63.20" r="1.75" fill="#d0d0d0" stroke="#222" stroke-width="0.55"/>
<circle cx="1912.10" cy="69.60" r="1.75" fill="#d0d0d0" stroke="#222" stroke-width="0.55"/>
<circle cx="1914.30" cy="72.50" r="1.75" fill="#e8200c" stroke="#222" stroke-width="0.55"/>
<circle cx="1898.60" cy="68.90" r="1.75" fill="#e8200c" stroke="#222" stroke-width="0.55"/>
<circle cx="1887.90" cy="75.70" r="1.75" fill="#e8200c" stroke="#222" stroke-width="0.55"/>
<circle cx="1906.40" cy="82.40" r="1.75" fill="#e8200c" stroke="#222" stroke-width="0.55"/>
<circle cx="1906.60" cy="83.60" r="1.75" fill="#e8200c" stroke="#222" stroke-width="0.55"/>
<circle cx="1914.30" cy="87.90" r="1.75" fill="#e8200c" stroke="#222" stroke-width="0.55"/>
<circle cx="1902.90" cy="96.80" r="1.75" fill="#e8200c" stroke="#222" stroke-width="0.55"/>
<circle cx="1899.30" cy="104.60" r="1.75" fill="#e8200c" stroke="#222" stroke-width="0.55"/>
<circle cx="1891.40" cy="111.80" r="1.75" fill="#d0d0d0" stroke="#222" stroke-width="0.55"/>
<circle cx="1897.00" cy="123.60" r="1.75" fill="#e8200c" stroke="#222" stroke-width="0.55"/>
<circle cx="1897.20" cy="126.00" r="1.75" fill="#e8200c" stroke="#222" stroke-width="0.55"/>
<circle cx="1897.40" cy="128.60" r="1.75" fill="#e8200c" stroke="#222" stroke-width="0.55"/>
<circle cx="1896.00" cy="135.00" r="1.75" fill="#e8200c" stroke="#222" stroke-width="0.55"/>
<circle cx="1897.50" cy="137.00" r="1.75" fill="#e8200c" stroke="#222" stroke-width="0.55"/>
<circle cx="1895.00" cy="136.50" r="1.75" fill="#e8200c" stroke="#222" stroke-width="0.55"/>
<circle cx="1898.20" cy="134.00" r="1.75" fill="#e8200c" stroke="#222" stroke-width="0.55"/>
<circle cx="1888.60" cy="139.30" r="1.75" fill="#e8200c" stroke="#222" stroke-width="0.55"/>
<circle cx="1893.60" cy="161.40" r="1.75" fill="#e8200c" stroke="#222" stroke-width="0.55"/>
<circle cx="1875.00" cy="122.90" r="1.75" fill="#e8200c" stroke="#222" stroke-width="0.55"/>
<circle cx="1870.00" cy="108.20" r="1.75" fill="#d0d0d0" stroke="#222" stroke-width="0.55"/>
<circle cx="1864.60" cy="83.20" r="1.75" fill="#e8200c" stroke="#222" stroke-width="0.55"/>
<circle cx="1827.10" cy="80.70" r="1.75" fill="#e8200c" stroke="#222" stroke-width="0.55"/>
<circle cx="1812.50" cy="85.70" r="1.75" fill="#d0d0d0" stroke="#222" stroke-width="0.55"/>
<circle cx="1827.90" cy="102.10" r="1.75" fill="#d0d0d0" stroke="#222" stroke-width="0.55"/>
<circle cx="1842.10" cy="136.80" r="1.75" fill="#d0d0d0" stroke="#222" stroke-width="0.55"/>
<circle cx="1853.60" cy="141.10" r="1.75" fill="#d0d0d0" stroke="#222" stroke-width="0.55"/>
<circle cx="1812.90" cy="136.10" r="1.75" fill="#d0d0d0" stroke="#222" stroke-width="0.55"/>
<circle cx="1807.50" cy="133.90" r="1.75" fill="#d0d0d0" stroke="#222" stroke-width="0.55"/>
<circle cx="1802.50" cy="125.00" r="1.75" fill="#e8200c" stroke="#222" stroke-width="0.55"/>
<circle cx="1792.90" cy="124.60" r="1.75" fill="#d0d0d0" stroke="#222" stroke-width="0.55"/>
<circle cx="1795.40" cy="111.10" r="1.75" fill="#d0d0d0" stroke="#222" stroke-width="0.55"/>
<circle cx="1786.10" cy="106.10" r="1.75" fill="#e8200c" stroke="#222" stroke-width="0.55"/>
<circle cx="1791.40" cy="106.40" r="1.75" fill="#e8200c" stroke="#222" stroke-width="0.55"/>
<circle cx="1785.70" cy="119.00" r="1.75" fill="#d0d0d0" stroke="#222" stroke-width="0.55"/>
<circle cx="1782.50" cy="120.00" r="1.75" fill="#d0d0d0" stroke="#222" stroke-width="0.55"/>
<circle cx="1778.00" cy="122.00" r="1.75" fill="#d0d0d0" stroke="#222" stroke-width="0.55"/>
<circle cx="1780.30" cy="125.70" r="1.75" fill="#d0d0d0" stroke="#222" stroke-width="0.55"/>
<circle cx="1781.40" cy="128.60" r="1.75" fill="#d0d0d0" stroke="#222" stroke-width="0.55"/>
<circle cx="1785.00" cy="119.50" r="1.75" fill="#d0d0d0" stroke="#222" stroke-width="0.55"/>
<circle cx="1789.60" cy="129.60" r="1.75" fill="#d0d0d0" stroke="#222" stroke-width="0.55"/>
<circle cx="1789.30" cy="134.30" r="1.75" fill="#e8200c" stroke="#222" stroke-width="0.55"/>
<circle cx="1796.80" cy="176.40" r="1.75" fill="#d0d0d0" stroke="#222" stroke-width="0.55"/>
<circle cx="1834.60" cy="210.40" r="1.75" fill="#d0d0d0" stroke="#222" stroke-width="0.55"/>
<circle cx="1845.70" cy="234.60" r="1.75" fill="#e8200c" stroke="#222" stroke-width="0.55"/>
<circle cx="1860.70" cy="242.90" r="1.75" fill="#d0d0d0" stroke="#222" stroke-width="0.55"/>
<circle cx="1870.70" cy="238.90" r="1.75" fill="#e8200c" stroke="#222" stroke-width="0.55"/>
<circle cx="1891.40" cy="245.00" r="1.75" fill="#d0d0d0" stroke="#222" stroke-width="0.55"/>
<circle cx="1893.90" cy="247.10" r="1.75" fill="#d0d0d0" stroke="#222" stroke-width="0.55"/>
<circle cx="1886.10" cy="252.10" r="1.75" fill="#d0d0d0" stroke="#222" stroke-width="0.55"/>
<rect x="1696.50" y="31.50" width="290.00" height="231.00" fill="none" stroke="#333" stroke-width="1.1"/>
<line x1="1729.50" y1="262.50" x2="1729.50" y2="265.00" stroke="#444" stroke-width="0.8"/>
<text x="1729.60" y="272.50" font-size="8.2" text-anchor="middle" font-weight="bold" fill="#444">-1.0</text>
<line x1="1790.50" y1="262.50" x2="1790.50" y2="265.00" stroke="#444" stroke-width="0.8"/>
<text x="1790.40" y="272.50" font-size="8.2" text-anchor="middle" font-weight="bold" fill="#444">-0.5</text>
<line x1="1850.50" y1="262.50" x2="1850.50" y2="265.00" stroke="#444" stroke-width="0.8"/>
<text x="1850.40" y="272.50" font-size="8.2" text-anchor="middle" font-weight="bold" fill="#444">0.0</text>
<line x1="1911.50" y1="262.50" x2="1911.50" y2="265.00" stroke="#444" stroke-width="0.8"/>
<text x="1911.00" y="272.50" font-size="8.2" text-anchor="middle" font-weight="bold" fill="#444">0.5</text>
<line x1="1971.50" y1="262.50" x2="1971.50" y2="265.00" stroke="#444" stroke-width="0.8"/>
<text x="1971.00" y="272.50" font-size="8.2" text-anchor="middle" font-weight="bold" fill="#444">1.0</text>
<line x1="1693.90" y1="57.50" x2="1696.40" y2="57.50" stroke="#444" stroke-width="0.8"/>
<text x="1692.60" y="60.50" font-size="8.2" text-anchor="end" font-weight="bold" fill="#444">0.5</text>
<line x1="1693.90" y1="131.50" x2="1696.40" y2="131.50" stroke="#444" stroke-width="0.8"/>
<text x="1692.60" y="133.70" font-size="8.2" text-anchor="end" font-weight="bold" fill="#444">0.0</text>
<line x1="1693.90" y1="203.50" x2="1696.40" y2="203.50" stroke="#444" stroke-width="0.8"/>
<text x="1692.60" y="206.50" font-size="8.2" text-anchor="end" font-weight="bold" fill="#444">-0.5</text>
<text x="1841.20" y="282.10" font-size="8.6" text-anchor="middle" font-weight="bold" textLength="50.40" lengthAdjust="spacingAndGlyphs">PC1 (19.67%)</text>
<text x="1675.80" y="147.50" font-size="8.8" text-anchor="middle" font-weight="bold" textLength="49.60" lengthAdjust="spacingAndGlyphs" transform="rotate(-90 1675.80 147.50)">PC2 (10.2%)</text>
<rect x="1800.60" y="293.60" width="11" height="11" fill="#d8d8d8" fill-opacity="0.8" stroke="#ccc" stroke-width="0.8"/>
<circle cx="1806.10" cy="299.10" r="1.4" fill="#bbb"/>
<text x="1814.80" y="303.00" font-size="9.4" fill="#222" textLength="25.90" lengthAdjust="spacingAndGlyphs">Control</text>
<rect x="1844.20" y="293.60" width="11" height="11" fill="#ee6b58" fill-opacity="0.9" stroke="#e8200c" stroke-width="0.8"/>
<circle cx="1849.70" cy="299.10" r="1.6" fill="#f01000"/>
<text x="1858.20" y="303.00" font-size="9.4" fill="#222" textLength="23.20" lengthAdjust="spacingAndGlyphs">Navax</text>
<path d="M1830.40,306.80 Q1830.40,309.60 1833.40,309.60 L1870.60,309.60 Q1873.60,309.60 1873.60,306.80 M1852.00,309.60 L1852.00,311.60" fill="none" stroke="#777" stroke-width="0.7"/>
<text x="1855.40" y="319.40" font-size="6.4" text-anchor="middle" fill="#222" textLength="30.40" lengthAdjust="spacingAndGlyphs">(<tspan font-style="italic">p</tspan> = 0.001)</text>
<text x="15.60" y="347.30" font-size="12.5" font-weight="bold">g</text>
<text x="164.60" y="347.30" font-size="13.3" text-anchor="middle" font-weight="bold">Phylum</text>
<rect x="62.40" y="357.70" width="47.80" height="1.80" fill="#9467c3"/>
<rect x="62.40" y="359.50" width="47.80" height="7.30" fill="#d92a2b"/>
<rect x="62.40" y="366.80" width="47.80" height="36.90" fill="#4aad36"/>
<rect x="62.40" y="403.70" width="47.80" height="426.40" fill="#dc77cf"/>
<rect x="116.00" y="357.70" width="47.60" height="51.40" fill="#f07f23"/>
<rect x="116.00" y="409.10" width="47.60" height="9.70" fill="#9467c3"/>
<rect x="116.00" y="418.80" width="47.60" height="12.90" fill="#d92a2b"/>
<rect x="116.00" y="431.70" width="47.60" height="85.80" fill="#4aad36"/>
<rect x="116.00" y="517.50" width="47.60" height="312.60" fill="#dc77cf"/>
<rect x="169.20" y="357.70" width="47.00" height="3.30" fill="#3f80bc"/>
<rect x="169.20" y="361.00" width="47.00" height="7.90" fill="#9467c3"/>
<rect x="169.20" y="368.90" width="47.00" height="7.20" fill="#d92a2b"/>
<rect x="169.20" y="376.10" width="47.00" height="187.30" fill="#4aad36"/>
<rect x="169.20" y="563.40" width="47.00" height="266.70" fill="#dc77cf"/>
<rect x="222.00" y="357.70" width="47.60" height="14.30" fill="#3f80bc"/>
<rect x="222.00" y="372.00" width="47.60" height="14.30" fill="#f07f23"/>
<rect x="222.00" y="386.30" width="47.60" height="27.30" fill="#9467c3"/>
<rect x="222.00" y="413.60" width="47.60" height="41.00" fill="#d92a2b"/>
<rect x="222.00" y="454.60" width="47.60" height="224.40" fill="#4aad36"/>
<rect x="222.00" y="679.00" width="47.60" height="148.10" fill="#dc77cf"/>
<rect x="222.00" y="827.10" width="47.60" height="3.00" fill="#8c564b"/>
<rect x="55.40" y="357.70" width="221.80" height="472.40" fill="none" stroke="#222" stroke-width="1.2"/>
<line x1="52.50" y1="830.50" x2="55.40" y2="830.50" stroke="#444" stroke-width="0.8"/>
<text x="50.00" y="836.40" font-size="17.6" text-anchor="end" fill="#4d4d4d">0</text>
<line x1="52.50" y1="712.50" x2="55.40" y2="712.50" stroke="#444" stroke-width="0.8"/>
<text x="50.00" y="718.30" font-size="17.6" text-anchor="end" fill="#4d4d4d">25</text>
<line x1="52.50" y1="593.50" x2="55.40" y2="593.50" stroke="#444" stroke-width="0.8"/>
<text x="50.00" y="600.10" font-size="17.6" text-anchor="end" fill="#4d4d4d">50</text>
<line x1="52.50" y1="474.50" x2="55.40" y2="474.50" stroke="#444" stroke-width="0.8"/>
<text x="50.00" y="480.90" font-size="17.6" text-anchor="end" fill="#4d4d4d">75</text>
<line x1="86.50" y1="830.10" x2="86.50" y2="833.00" stroke="#444" stroke-width="0.8"/>
<text x="95.00" y="845.00" font-size="17.9" text-anchor="end" fill="#4d4d4d" transform="rotate(-45 95.00 845.00)">Control day 0</text>
<line x1="139.50" y1="830.10" x2="139.50" y2="833.00" stroke="#444" stroke-width="0.8"/>
<text x="148.50" y="845.00" font-size="17.9" text-anchor="end" fill="#4d4d4d" transform="rotate(-45 148.50 845.00)">Control day 3</text>
<line x1="192.50" y1="830.10" x2="192.50" y2="833.00" stroke="#444" stroke-width="0.8"/>
<text x="201.40" y="845.00" font-size="17.9" text-anchor="end" fill="#4d4d4d" transform="rotate(-45 201.40 845.00)">Navax day 0</text>
<line x1="245.50" y1="830.10" x2="245.50" y2="833.00" stroke="#444" stroke-width="0.8"/>
<text x="254.50" y="845.00" font-size="17.9" text-anchor="end" fill="#4d4d4d" transform="rotate(-45 254.50 845.00)">Navax day 3</text>
<text x="21.90" y="582.40" font-size="17.8" text-anchor="middle" fill="#111" textLength="166.80" lengthAdjust="spacingAndGlyphs" transform="rotate(-90 21.90 582.40)">Relative Abundance (%)</text>
<rect x="294.00" y="515.60" width="20.90" height="21.00" fill="#3f80bc"/>
<text x="322.10" y="530.40" font-size="18" fill="#111">Cyanobacteriota</text>
<rect x="294.00" y="538.40" width="20.90" height="21.00" fill="#f07f23"/>
<text x="322.10" y="553.20" font-size="18" fill="#111">Bacteroidota</text>
<rect x="294.00" y="561.20" width="20.90" height="21.00" fill="#9467c3"/>
<text x="322.10" y="576.00" font-size="18" fill="#111">Unclassified</text>
<rect x="294.00" y="584.00" width="20.90" height="21.00" fill="#d92a2b"/>
<text x="322.10" y="598.80" font-size="18" fill="#111">Actinomycetota</text>
<rect x="294.00" y="606.80" width="20.90" height="21.00" fill="#4aad36"/>
<text x="322.10" y="621.60" font-size="18" fill="#111">Bacillota</text>
<rect x="294.00" y="629.60" width="20.90" height="21.00" fill="#dc77cf"/>
<text x="322.10" y="644.40" font-size="18" fill="#111">Proteobacteria</text>
<rect x="294.00" y="652.40" width="20.90" height="21.00" fill="#8c564b"/>
<text x="322.10" y="667.20" font-size="18" fill="#111">Others</text>
<text x="494.00" y="349.50" font-size="12.5" font-weight="bold">h</text>
<text x="642.20" y="349.00" font-size="13.3" text-anchor="middle" font-weight="bold">Genus</text>
<rect x="547.00" y="360.80" width="44.10" height="4.20" fill="#c6b0d8"/>
<rect x="547.00" y="365.00" width="44.10" height="1.20" fill="#3f7fbf"/>
<rect x="547.00" y="366.20" width="44.10" height="3.10" fill="#ebb873"/>
<rect x="547.00" y="369.30" width="44.10" height="8.50" fill="#f07f23"/>
<rect x="547.00" y="377.80" width="44.10" height="15.60" fill="#a6d4e3"/>
<rect x="547.00" y="393.40" width="44.10" height="1.70" fill="#ef9399"/>
<rect x="547.00" y="395.10" width="44.10" height="12.80" fill="#b05a2e"/>
<rect x="547.00" y="407.90" width="44.10" height="98.90" fill="#f0f79c"/>
<rect x="547.00" y="506.80" width="44.10" height="13.50" fill="#6a3d9f"/>
<rect x="547.00" y="520.30" width="44.10" height="299.40" fill="#e62521"/>
<rect x="547.00" y="819.70" width="44.10" height="7.90" fill="#999999"/>
<rect x="596.20" y="360.80" width="43.60" height="40.90" fill="#d95f1a"/>
<rect x="596.20" y="401.70" width="43.60" height="9.30" fill="#e7298a"/>
<rect x="596.20" y="411.00" width="43.60" height="1.50" fill="#45a07a"/>
<rect x="596.20" y="412.50" width="43.60" height="1.30" fill="#b5e48c"/>
<rect x="596.20" y="413.80" width="43.60" height="2.00" fill="#808080"/>
<rect x="596.20" y="415.80" width="43.60" height="4.00" fill="#c6b0d8"/>
<rect x="596.20" y="419.80" width="43.60" height="8.40" fill="#3f7fbf"/>
<rect x="596.20" y="428.20" width="43.60" height="2.80" fill="#a6782c"/>
<rect x="596.20" y="431.00" width="43.60" height="5.00" fill="#ebb873"/>
<rect x="596.20" y="436.00" width="43.60" height="4.70" fill="#f07f23"/>
<rect x="596.20" y="440.70" width="43.60" height="9.20" fill="#a6d4e3"/>
<rect x="596.20" y="449.90" width="43.60" height="9.10" fill="#ef9399"/>
<rect x="596.20" y="459.00" width="43.60" height="27.00" fill="#f0f79c"/>
<rect x="596.20" y="486.00" width="43.60" height="75.50" fill="#6a3d9f"/>
<rect x="596.20" y="561.50" width="43.60" height="231.80" fill="#e62521"/>
<rect x="596.20" y="793.30" width="43.60" height="34.30" fill="#999999"/>
<rect x="644.90" y="360.80" width="43.90" height="5.20" fill="#808080"/>
<rect x="644.90" y="366.00" width="43.90" height="1.10" fill="#c6b0d8"/>
<rect x="644.90" y="367.10" width="43.90" height="24.00" fill="#a6782c"/>
<rect x="644.90" y="391.10" width="43.90" height="6.90" fill="#ebb873"/>
<rect x="644.90" y="398.00" width="43.90" height="8.10" fill="#f07f23"/>
<rect x="644.90" y="406.10" width="43.90" height="1.80" fill="#c6b0d8"/>
<rect x="644.90" y="407.90" width="43.90" height="6.30" fill="#ef9399"/>
<rect x="644.90" y="414.20" width="43.90" height="8.70" fill="#b05a2e"/>
<rect x="644.90" y="422.90" width="43.90" height="48.50" fill="#f0f79c"/>
<rect x="644.90" y="471.40" width="43.90" height="163.10" fill="#6a3d9f"/>
<rect x="644.90" y="634.50" width="43.90" height="188.20" fill="#e62521"/>
<rect x="644.90" y="822.70" width="43.90" height="4.90" fill="#999999"/>
<rect x="693.80" y="360.80" width="43.90" height="12.90" fill="#7570b3"/>
<rect x="693.80" y="373.70" width="43.90" height="1.20" fill="#d95f1a"/>
<rect x="693.80" y="374.90" width="43.90" height="8.50" fill="#45a07a"/>
<rect x="693.80" y="383.40" width="43.90" height="7.70" fill="#808080"/>
<rect x="693.80" y="391.10" width="43.90" height="106.70" fill="#4aab35"/>
<rect x="693.80" y="497.80" width="43.90" height="11.30" fill="#b5e48c"/>
<rect x="693.80" y="509.10" width="43.90" height="13.50" fill="#666666"/>
<rect x="693.80" y="522.60" width="43.90" height="12.10" fill="#808080"/>
<rect x="693.80" y="534.70" width="43.90" height="12.60" fill="#c6b0d8"/>
<rect x="693.80" y="547.30" width="43.90" height="15.10" fill="#3f7fbf"/>
<rect x="693.80" y="562.40" width="43.90" height="7.30" fill="#a6782c"/>
<rect x="693.80" y="569.70" width="43.90" height="16.10" fill="#ebb873"/>
<rect x="693.80" y="585.80" width="43.90" height="2.40" fill="#f07f23"/>
<rect x="693.80" y="588.20" width="43.90" height="6.60" fill="#a6d4e3"/>
<rect x="693.80" y="594.80" width="43.90" height="27.30" fill="#ef9399"/>
<rect x="693.80" y="622.10" width="43.90" height="11.50" fill="#b05a2e"/>
<rect x="693.80" y="633.60" width="43.90" height="4.60" fill="#f0f79c"/>
<rect x="693.80" y="638.20" width="43.90" height="51.50" fill="#6a3d9f"/>
<rect x="693.80" y="689.70" width="43.90" height="20.90" fill="#e62521"/>
<rect x="693.80" y="710.60" width="43.90" height="117.00" fill="#999999"/>
<rect x="540.80" y="360.80" width="203.40" height="466.80" fill="none" stroke="#222" stroke-width="1.2"/>
<line x1="538.00" y1="827.50" x2="540.80" y2="827.50" stroke="#444" stroke-width="0.8"/>
<text x="536.00" y="833.00" font-size="17" text-anchor="end" fill="#4d4d4d">0</text>
<line x1="538.00" y1="710.50" x2="540.80" y2="710.50" stroke="#444" stroke-width="0.8"/>
<text x="536.00" y="716.60" font-size="17" text-anchor="end" fill="#4d4d4d">25</text>
<line x1="538.00" y1="593.50" x2="540.80" y2="593.50" stroke="#444" stroke-width="0.8"/>
<text x="536.00" y="599.30" font-size="17" text-anchor="end" fill="#4d4d4d">50</text>
<line x1="538.00" y1="476.50" x2="540.80" y2="476.50" stroke="#444" stroke-width="0.8"/>
<text x="536.00" y="482.20" font-size="17" text-anchor="end" fill="#4d4d4d">75</text>
<line x1="569.50" y1="827.60" x2="569.50" y2="830.50" stroke="#444" stroke-width="0.8"/>
<text x="578.05" y="843.00" font-size="17.6" text-anchor="end" fill="#4d4d4d" transform="rotate(-45 578.05 843.00)">Control day 0</text>
<line x1="618.50" y1="827.60" x2="618.50" y2="830.50" stroke="#444" stroke-width="0.8"/>
<text x="627.00" y="843.00" font-size="17.6" text-anchor="end" fill="#4d4d4d" transform="rotate(-45 627.00 843.00)">Control day 3</text>
<line x1="666.50" y1="827.60" x2="666.50" y2="830.50" stroke="#444" stroke-width="0.8"/>
<text x="675.85" y="843.00" font-size="17.6" text-anchor="end" fill="#4d4d4d" transform="rotate(-45 675.85 843.00)">Navax day 0</text>
<line x1="715.50" y1="827.60" x2="715.50" y2="830.50" stroke="#444" stroke-width="0.8"/>
<text x="724.75" y="843.00" font-size="17.6" text-anchor="end" fill="#4d4d4d" transform="rotate(-45 724.75 843.00)">Navax day 3</text>
<text x="509.00" y="593.80" font-size="19.5" text-anchor="middle" fill="#111" textLength="192.40" lengthAdjust="spacingAndGlyphs" transform="rotate(-90 509.00 593.80)">Relative Abundance (%)</text>
<rect x="760.70" y="384.20" width="21.20" height="19.60" fill="#7570b3"/>
<text x="789.10" y="396.90" font-size="17.6" font-style="italic" fill="#111">Brevibacillus</text>
<rect x="760.70" y="406.47" width="21.20" height="19.60" fill="#d95f1a"/>
<text x="789.10" y="419.17" font-size="17.6" font-style="italic" fill="#111">Alloprevotella</text>
<rect x="760.70" y="428.74" width="21.20" height="19.60" fill="#e7298a"/>
<text x="789.10" y="441.44" font-size="17.6" font-style="italic" fill="#111">Klebsiella</text>
<rect x="760.70" y="451.01" width="21.20" height="19.60" fill="#45a07a"/>
<text x="789.10" y="463.71" font-size="17.6" font-style="italic" fill="#111">Alkalihalobacillus</text>
<rect x="760.70" y="473.28" width="21.20" height="19.60" fill="#4aab35"/>
<text x="789.10" y="485.98" font-size="17.6" font-style="italic" fill="#111">Bacillus</text>
<rect x="760.70" y="495.55" width="21.20" height="19.60" fill="#b5e48c"/>
<text x="789.10" y="508.25" font-size="17.6" font-style="italic" fill="#111">Brucella</text>
<rect x="760.70" y="517.82" width="21.20" height="19.60" fill="#666666"/>
<text x="789.10" y="530.52" font-size="17.6" font-style="italic" fill="#111">Agrobacterium</text>
<rect x="760.70" y="540.09" width="21.20" height="19.60" fill="#c6b0d8"/>
<text x="789.10" y="552.79" font-size="17.6" font-style="italic" fill="#111">Mesorhizobium</text>
<rect x="760.70" y="562.36" width="21.20" height="19.60" fill="#3f7fbf"/>
<text x="789.10" y="575.06" font-size="17.6" font-style="italic" fill="#111">Aquabacterium</text>
<rect x="760.70" y="584.63" width="21.20" height="19.60" fill="#a6782c"/>
<text x="789.10" y="597.33" font-size="17.6" font-style="italic" fill="#111">Pseudomonas</text>
<rect x="760.70" y="606.90" width="21.20" height="19.60" fill="#ebb873"/>
<text x="789.10" y="619.60" font-size="17.6" font-style="italic" fill="#111">Corynebacterium</text>
<rect x="760.70" y="629.17" width="21.20" height="19.60" fill="#f07f23"/>
<text x="789.10" y="641.87" font-size="17.6" font-style="italic" fill="#111">Staphylococcus</text>
<rect x="760.70" y="651.44" width="21.20" height="19.60" fill="#a6d4e3"/>
<text x="789.10" y="664.14" font-size="17.6" font-style="italic" fill="#111">Escherichia</text>
<rect x="760.70" y="673.71" width="21.20" height="19.60" fill="#ef9399"/>
<text x="789.10" y="686.41" font-size="17.6" font-style="italic" fill="#111">Unclassified</text>
<rect x="760.70" y="695.98" width="21.20" height="19.60" fill="#b05a2e"/>
<text x="789.10" y="708.68" font-size="17.6" font-style="italic" fill="#111">Dolosigranulum</text>
<rect x="760.70" y="718.25" width="21.20" height="19.60" fill="#f0f79c"/>
<text x="789.10" y="730.95" font-size="17.6" font-style="italic" fill="#111">Moraxella</text>
<rect x="760.70" y="740.52" width="21.20" height="19.60" fill="#6a3d9f"/>
<text x="789.10" y="753.22" font-size="17.6" font-style="italic" fill="#111">Streptococcus</text>
<rect x="760.70" y="762.79" width="21.20" height="19.60" fill="#e62521"/>
<text x="789.10" y="775.49" font-size="17.6" font-style="italic" fill="#111">Haemophilus</text>
<rect x="760.70" y="785.06" width="21.20" height="19.60" fill="#999999"/>
<text x="789.10" y="797.76" font-size="17.6" font-style="italic" fill="#111">Others</text>
<text x="973.90" y="348.40" font-size="13" font-weight="bold">i</text>
<text x="1272.40" y="348.80" font-size="14" text-anchor="middle" font-weight="bold">Genus</text>
<line x1="1006.30" y1="362.40" x2="1006.30" y2="579.90" stroke="#d4d4d4" stroke-width="0.8" stroke-dasharray="1,2"/>
<line x1="1032.22" y1="362.40" x2="1032.22" y2="579.90" stroke="#d4d4d4" stroke-width="0.8" stroke-dasharray="1,2"/>
<line x1="1058.14" y1="362.40" x2="1058.14" y2="579.90" stroke="#d4d4d4" stroke-width="0.8" stroke-dasharray="1,2"/>
<line x1="1084.06" y1="362.40" x2="1084.06" y2="579.90" stroke="#d4d4d4" stroke-width="0.8" stroke-dasharray="1,2"/>
<line x1="1109.98" y1="362.40" x2="1109.98" y2="579.90" stroke="#d4d4d4" stroke-width="0.8" stroke-dasharray="1,2"/>
<line x1="1135.90" y1="362.40" x2="1135.90" y2="579.90" stroke="#d4d4d4" stroke-width="0.8" stroke-dasharray="1,2"/>
<line x1="1161.82" y1="362.40" x2="1161.82" y2="579.90" stroke="#d4d4d4" stroke-width="0.8" stroke-dasharray="1,2"/>
<line x1="1187.74" y1="362.40" x2="1187.74" y2="579.90" stroke="#d4d4d4" stroke-width="0.8" stroke-dasharray="1,2"/>
<line x1="1213.66" y1="362.40" x2="1213.66" y2="579.90" stroke="#d4d4d4" stroke-width="0.8" stroke-dasharray="1,2"/>
<line x1="1239.58" y1="362.40" x2="1239.58" y2="579.90" stroke="#d4d4d4" stroke-width="0.8" stroke-dasharray="1,2"/>
<line x1="1265.50" y1="362.40" x2="1265.50" y2="579.90" stroke="#d4d4d4" stroke-width="0.8" stroke-dasharray="1,2"/>
<line x1="1291.42" y1="362.40" x2="1291.42" y2="579.90" stroke="#d4d4d4" stroke-width="0.8" stroke-dasharray="1,2"/>
<line x1="1317.34" y1="362.40" x2="1317.34" y2="579.90" stroke="#d4d4d4" stroke-width="0.8" stroke-dasharray="1,2"/>
<line x1="1343.26" y1="362.40" x2="1343.26" y2="579.90" stroke="#d4d4d4" stroke-width="0.8" stroke-dasharray="1,2"/>
<rect x="1265.50" y="365.80" width="45.36" height="16.90" fill="#666666"/>
<text x="1262.20" y="376.95" font-size="9.0" text-anchor="end" font-style="italic" fill="#111" textLength="43.31" lengthAdjust="spacingAndGlyphs">Haemophilus</text>
<text x="1387.00" y="376.95" font-size="6.5" text-anchor="end" font-weight="bold" font-style="italic" textLength="34.93" lengthAdjust="spacingAndGlyphs">p = 2.00e-04</text>
<rect x="1265.50" y="385.21" width="26.31" height="16.90" fill="#666666"/>
<text x="1262.20" y="396.36" font-size="9.0" text-anchor="end" font-style="italic" fill="#111" textLength="26.39" lengthAdjust="spacingAndGlyphs">Nevskia</text>
<text x="1387.00" y="396.36" font-size="6.5" text-anchor="end" font-weight="bold" font-style="italic" textLength="34.93" lengthAdjust="spacingAndGlyphs">p = 3.85e-02</text>
<rect x="1245.02" y="404.62" width="20.48" height="16.90" fill="#f42b10"/>
<text x="1269.30" y="415.77" font-size="9.0" font-style="italic" fill="#111" textLength="49.50" lengthAdjust="spacingAndGlyphs">Sphingomonas</text>
<text x="1387.00" y="415.77" font-size="6.5" text-anchor="end" font-weight="bold" font-style="italic" textLength="34.93" lengthAdjust="spacingAndGlyphs">p = 4.10e-02</text>
<rect x="1245.02" y="424.03" width="20.48" height="16.90" fill="#f42b10"/>
<text x="1269.30" y="435.18" font-size="9.0" font-style="italic" fill="#111" textLength="43.32" lengthAdjust="spacingAndGlyphs">Sphingobium</text>
<text x="1387.00" y="435.18" font-size="6.5" text-anchor="end" font-weight="bold" font-style="italic" textLength="34.93" lengthAdjust="spacingAndGlyphs">p = 3.06e-02</text>
<rect x="1229.08" y="443.44" width="36.42" height="16.90" fill="#f42b10"/>
<text x="1269.30" y="454.59" font-size="9.0" font-style="italic" fill="#111" textLength="48.25" lengthAdjust="spacingAndGlyphs">Agrobacterium</text>
<text x="1387.00" y="454.59" font-size="6.5" text-anchor="end" font-weight="bold" font-style="italic" textLength="34.93" lengthAdjust="spacingAndGlyphs">p = 2.46e-02</text>
<rect x="1227.40" y="462.85" width="38.10" height="16.90" fill="#f42b10"/>
<text x="1269.30" y="474.00" font-size="9.0" font-style="italic" fill="#111" textLength="38.77" lengthAdjust="spacingAndGlyphs">Paracoccus</text>
<text x="1387.00" y="474.00" font-size="6.5" text-anchor="end" font-weight="bold" font-style="italic" textLength="34.93" lengthAdjust="spacingAndGlyphs">p = 2.86e-02</text>
<rect x="1219.36" y="482.26" width="46.14" height="16.90" fill="#f42b10"/>
<text x="1269.30" y="493.41" font-size="9.0" font-style="italic" fill="#111" textLength="26.81" lengthAdjust="spacingAndGlyphs">Brucella</text>
<text x="1387.00" y="493.41" font-size="6.5" text-anchor="end" font-weight="bold" font-style="italic" textLength="34.93" lengthAdjust="spacingAndGlyphs">p = 4.85e-02</text>
<rect x="1210.42" y="501.67" width="55.08" height="16.90" fill="#f42b10"/>
<text x="1269.30" y="512.82" font-size="9.0" font-style="italic" fill="#111" textLength="49.49" lengthAdjust="spacingAndGlyphs">Brevibacterium</text>
<text x="1387.00" y="512.82" font-size="6.5" text-anchor="end" font-weight="bold" font-style="italic" textLength="34.93" lengthAdjust="spacingAndGlyphs">p = 1.32e-02</text>
<rect x="1153.14" y="521.08" width="112.36" height="16.90" fill="#f42b10"/>
<text x="1269.30" y="532.23" font-size="9.0" font-style="italic" fill="#111" textLength="25.57" lengthAdjust="spacingAndGlyphs">Bacillus</text>
<text x="1387.00" y="532.23" font-size="6.5" text-anchor="end" font-weight="bold" font-style="italic" textLength="34.93" lengthAdjust="spacingAndGlyphs">p = 6.00e-06</text>
<rect x="1063.32" y="540.49" width="202.18" height="16.90" fill="#f42b10"/>
<text x="1269.30" y="551.64" font-size="9.0" font-style="italic" fill="#111" textLength="24.74" lengthAdjust="spacingAndGlyphs">Priestia</text>
<text x="1387.00" y="551.64" font-size="6.5" text-anchor="end" font-weight="bold" font-style="italic" textLength="34.93" lengthAdjust="spacingAndGlyphs">p = 2.90e-02</text>
<rect x="1029.63" y="559.90" width="235.87" height="16.90" fill="#f42b10"/>
<text x="1269.30" y="571.05" font-size="9.0" font-style="italic" fill="#111" textLength="41.65" lengthAdjust="spacingAndGlyphs">Brevibacillus</text>
<text x="1387.00" y="571.05" font-size="6.5" text-anchor="end" font-weight="bold" font-style="italic" textLength="34.93" lengthAdjust="spacingAndGlyphs">p = 3.52e-02</text>
<line x1="1006.30" y1="362.40" x2="1006.30" y2="579.90" stroke="#ffffff" stroke-opacity="0.25" stroke-width="0.8" stroke-dasharray="1,2"/>
<line x1="1032.22" y1="362.40" x2="1032.22" y2="579.90" stroke="#ffffff" stroke-opacity="0.25" stroke-width="0.8" stroke-dasharray="1,2"/>
<line x1="1058.14" y1="362.40" x2="1058.14" y2="579.90" stroke="#ffffff" stroke-opacity="0.25" stroke-width="0.8" stroke-dasharray="1,2"/>
<line x1="1084.06" y1="362.40" x2="1084.06" y2="579.90" stroke="#ffffff" stroke-opacity="0.25" stroke-width="0.8" stroke-dasharray="1,2"/>
<line x1="1109.98" y1="362.40" x2="1109.98" y2="579.90" stroke="#ffffff" stroke-opacity="0.25" stroke-width="0.8" stroke-dasharray="1,2"/>
<line x1="1135.90" y1="362.40" x2="1135.90" y2="579.90" stroke="#ffffff" stroke-opacity="0.25" stroke-width="0.8" stroke-dasharray="1,2"/>
<line x1="1161.82" y1="362.40" x2="1161.82" y2="579.90" stroke="#ffffff" stroke-opacity="0.25" stroke-width="0.8" stroke-dasharray="1,2"/>
<line x1="1187.74" y1="362.40" x2="1187.74" y2="579.90" stroke="#ffffff" stroke-opacity="0.25" stroke-width="0.8" stroke-dasharray="1,2"/>
<line x1="1213.66" y1="362.40" x2="1213.66" y2="579.90" stroke="#ffffff" stroke-opacity="0.25" stroke-width="0.8" stroke-dasharray="1,2"/>
<line x1="1239.58" y1="362.40" x2="1239.58" y2="579.90" stroke="#ffffff" stroke-opacity="0.25" stroke-width="0.8" stroke-dasharray="1,2"/>
<line x1="1265.50" y1="362.40" x2="1265.50" y2="579.90" stroke="#ffffff" stroke-opacity="0.25" stroke-width="0.8" stroke-dasharray="1,2"/>
<line x1="1291.42" y1="362.40" x2="1291.42" y2="579.90" stroke="#ffffff" stroke-opacity="0.25" stroke-width="0.8" stroke-dasharray="1,2"/>
<line x1="1317.34" y1="362.40" x2="1317.34" y2="579.90" stroke="#ffffff" stroke-opacity="0.25" stroke-width="0.8" stroke-dasharray="1,2"/>
<line x1="1343.26" y1="362.40" x2="1343.26" y2="579.90" stroke="#ffffff" stroke-opacity="0.25" stroke-width="0.8" stroke-dasharray="1,2"/>
<line x1="987.70" y1="579.50" x2="1387.20" y2="579.50" stroke="#555" stroke-width="1.1"/>
<line x1="1006.50" y1="579.90" x2="1006.50" y2="581.90" stroke="#555" stroke-width="0.7"/>
<text x="1006.30" y="590.30" font-size="7.8" text-anchor="middle" fill="#444">-20</text>
<line x1="1032.50" y1="579.90" x2="1032.50" y2="581.90" stroke="#555" stroke-width="0.7"/>
<text x="1032.22" y="590.30" font-size="7.8" text-anchor="middle" fill="#444">-18</text>
<line x1="1058.50" y1="579.90" x2="1058.50" y2="581.90" stroke="#555" stroke-width="0.7"/>
<text x="1058.14" y="590.30" font-size="7.8" text-anchor="middle" fill="#444">-16</text>
<line x1="1084.50" y1="579.90" x2="1084.50" y2="581.90" stroke="#555" stroke-width="0.7"/>
<text x="1084.06" y="590.30" font-size="7.8" text-anchor="middle" fill="#444">-14</text>
<line x1="1109.50" y1="579.90" x2="1109.50" y2="581.90" stroke="#555" stroke-width="0.7"/>
<text x="1109.98" y="590.30" font-size="7.8" text-anchor="middle" fill="#444">-12</text>
<line x1="1135.50" y1="579.90" x2="1135.50" y2="581.90" stroke="#555" stroke-width="0.7"/>
<text x="1135.90" y="590.30" font-size="7.8" text-anchor="middle" fill="#444">-10</text>
<line x1="1161.50" y1="579.90" x2="1161.50" y2="581.90" stroke="#555" stroke-width="0.7"/>
<text x="1161.82" y="590.30" font-size="7.8" text-anchor="middle" fill="#444">-8</text>
<line x1="1187.50" y1="579.90" x2="1187.50" y2="581.90" stroke="#555" stroke-width="0.7"/>
<text x="1187.74" y="590.30" font-size="7.8" text-anchor="middle" fill="#444">-6</text>
<line x1="1213.50" y1="579.90" x2="1213.50" y2="581.90" stroke="#555" stroke-width="0.7"/>
<text x="1213.66" y="590.30" font-size="7.8" text-anchor="middle" fill="#444">-4</text>
<line x1="1239.50" y1="579.90" x2="1239.50" y2="581.90" stroke="#555" stroke-width="0.7"/>
<text x="1239.58" y="590.30" font-size="7.8" text-anchor="middle" fill="#444">-2</text>
<line x1="1265.50" y1="579.90" x2="1265.50" y2="581.90" stroke="#555" stroke-width="0.7"/>
<text x="1265.50" y="590.30" font-size="7.8" text-anchor="middle" fill="#444">0</text>
<line x1="1291.50" y1="579.90" x2="1291.50" y2="581.90" stroke="#555" stroke-width="0.7"/>
<text x="1291.42" y="590.30" font-size="7.8" text-anchor="middle" fill="#444">2</text>
<line x1="1317.50" y1="579.90" x2="1317.50" y2="581.90" stroke="#555" stroke-width="0.7"/>
<text x="1317.34" y="590.30" font-size="7.8" text-anchor="middle" fill="#444">4</text>
<line x1="1343.50" y1="579.90" x2="1343.50" y2="581.90" stroke="#555" stroke-width="0.7"/>
<text x="1343.26" y="590.30" font-size="7.8" text-anchor="middle" fill="#444">6</text>
<text x="1187.00" y="600.00" font-size="8.2" text-anchor="middle" fill="#222" textLength="77.00" lengthAdjust="spacingAndGlyphs">Log Fold Change (LFC)</text>
<rect x="1132.20" y="613.80" width="8.70" height="11.10" fill="#666666"/>
<text x="1143.60" y="622.90" font-size="8.6" fill="#222" textLength="44.00" lengthAdjust="spacingAndGlyphs">Control day 3</text>
<rect x="1191.50" y="613.80" width="8.30" height="11.10" fill="#f42b10"/>
<text x="1202.50" y="622.90" font-size="8.6" fill="#222" textLength="40.60" lengthAdjust="spacingAndGlyphs">Navax day 3</text>
<text x="983.50" y="471.40" font-size="9" text-anchor="middle" fill="#222" transform="rotate(-90 983.50 471.40)">Genus</text>
<text x="1473.20" y="351.50" font-size="13" font-weight="bold">j</text>
<text x="1786.00" y="350.50" font-size="14" text-anchor="middle" font-weight="bold">Species</text>
<line x1="1530.40" y1="364.50" x2="1530.40" y2="580.60" stroke="#d4d4d4" stroke-width="0.8" stroke-dasharray="1,2"/>
<line x1="1563.30" y1="364.50" x2="1563.30" y2="580.60" stroke="#d4d4d4" stroke-width="0.8" stroke-dasharray="1,2"/>
<line x1="1596.20" y1="364.50" x2="1596.20" y2="580.60" stroke="#d4d4d4" stroke-width="0.8" stroke-dasharray="1,2"/>
<line x1="1629.10" y1="364.50" x2="1629.10" y2="580.60" stroke="#d4d4d4" stroke-width="0.8" stroke-dasharray="1,2"/>
<line x1="1662.00" y1="364.50" x2="1662.00" y2="580.60" stroke="#d4d4d4" stroke-width="0.8" stroke-dasharray="1,2"/>
<line x1="1694.90" y1="364.50" x2="1694.90" y2="580.60" stroke="#d4d4d4" stroke-width="0.8" stroke-dasharray="1,2"/>
<line x1="1727.80" y1="364.50" x2="1727.80" y2="580.60" stroke="#d4d4d4" stroke-width="0.8" stroke-dasharray="1,2"/>
<line x1="1760.70" y1="364.50" x2="1760.70" y2="580.60" stroke="#d4d4d4" stroke-width="0.8" stroke-dasharray="1,2"/>
<line x1="1793.60" y1="364.50" x2="1793.60" y2="580.60" stroke="#d4d4d4" stroke-width="0.8" stroke-dasharray="1,2"/>
<line x1="1826.50" y1="364.50" x2="1826.50" y2="580.60" stroke="#d4d4d4" stroke-width="0.8" stroke-dasharray="1,2"/>
<line x1="1859.40" y1="364.50" x2="1859.40" y2="580.60" stroke="#d4d4d4" stroke-width="0.8" stroke-dasharray="1,2"/>
<line x1="1892.30" y1="364.50" x2="1892.30" y2="580.60" stroke="#d4d4d4" stroke-width="0.8" stroke-dasharray="1,2"/>
<rect x="1760.70" y="369.80" width="32.90" height="26.50" fill="#666666"/>
<text x="1797.40" y="385.75" font-size="9.0" font-style="italic" fill="#111" textLength="81.41" lengthAdjust="spacingAndGlyphs">Rothia mucilaginosa</text>
<text x="1996.50" y="385.75" font-size="7.5" text-anchor="end" font-weight="bold" font-style="italic" textLength="42.68" lengthAdjust="spacingAndGlyphs">p = 1.05e-02</text>
<rect x="1750.99" y="399.70" width="42.61" height="26.50" fill="#666666"/>
<text x="1797.40" y="415.65" font-size="9.0" font-style="italic" fill="#111" textLength="48.74" lengthAdjust="spacingAndGlyphs">Unclassified</text>
<text x="1996.50" y="415.65" font-size="7.5" text-anchor="end" font-weight="bold" font-style="italic" textLength="42.12" lengthAdjust="spacingAndGlyphs">p = 2.11e-02</text>
<rect x="1747.05" y="429.60" width="46.55" height="26.50" fill="#666666"/>
<text x="1797.40" y="445.55" font-size="9.0" font-style="italic" fill="#111" textLength="72.03" lengthAdjust="spacingAndGlyphs">Veillonella atypica</text>
<text x="1996.50" y="445.55" font-size="7.5" text-anchor="end" font-weight="bold" font-style="italic" textLength="42.68" lengthAdjust="spacingAndGlyphs">p = 3.58e-02</text>
<rect x="1735.37" y="459.50" width="58.23" height="26.50" fill="#666666"/>
<text x="1797.40" y="475.45" font-size="9.0" font-style="italic" fill="#111" textLength="103.01" lengthAdjust="spacingAndGlyphs">Aquabacterium commune</text>
<text x="1996.50" y="475.45" font-size="7.5" text-anchor="end" font-weight="bold" font-style="italic" textLength="42.68" lengthAdjust="spacingAndGlyphs">p = 8.75e-02</text>
<rect x="1720.56" y="489.40" width="73.04" height="26.50" fill="#666666"/>
<text x="1797.40" y="505.35" font-size="9.0" font-style="italic" fill="#111" textLength="55.77" lengthAdjust="spacingAndGlyphs">Nevskia lacus</text>
<text x="1996.50" y="505.35" font-size="7.5" text-anchor="end" font-weight="bold" font-style="italic" textLength="42.68" lengthAdjust="spacingAndGlyphs">p = 1.22e-02</text>
<rect x="1694.90" y="519.30" width="98.70" height="26.50" fill="#666666"/>
<text x="1797.40" y="535.25" font-size="9.0" font-style="italic" fill="#111" textLength="97.47" lengthAdjust="spacingAndGlyphs">Streptococcus salivarius</text>
<text x="1996.50" y="535.25" font-size="7.5" text-anchor="end" font-weight="bold" font-style="italic" textLength="42.68" lengthAdjust="spacingAndGlyphs">p = 1.24e-02</text>
<rect x="1563.96" y="549.20" width="229.64" height="26.50" fill="#666666"/>
<text x="1797.40" y="565.15" font-size="9.0" font-style="italic" fill="#111" textLength="128.65" lengthAdjust="spacingAndGlyphs">Alkalihalobacillus rhizosphaerae</text>
<text x="1996.50" y="565.15" font-size="7.5" text-anchor="end" font-weight="bold" font-style="italic" textLength="42.68" lengthAdjust="spacingAndGlyphs">p = 3.85e-02</text>
<line x1="1530.40" y1="364.50" x2="1530.40" y2="580.60" stroke="#ffffff" stroke-opacity="0.25" stroke-width="0.8" stroke-dasharray="1,2"/>
<line x1="1563.30" y1="364.50" x2="1563.30" y2="580.60" stroke="#ffffff" stroke-opacity="0.25" stroke-width="0.8" stroke-dasharray="1,2"/>
<line x1="1596.20" y1="364.50" x2="1596.20" y2="580.60" stroke="#ffffff" stroke-opacity="0.25" stroke-width="0.8" stroke-dasharray="1,2"/>
<line x1="1629.10" y1="364.50" x2="1629.10" y2="580.60" stroke="#ffffff" stroke-opacity="0.25" stroke-width="0.8" stroke-dasharray="1,2"/>
<line x1="1662.00" y1="364.50" x2="1662.00" y2="580.60" stroke="#ffffff" stroke-opacity="0.25" stroke-width="0.8" stroke-dasharray="1,2"/>
<line x1="1694.90" y1="364.50" x2="1694.90" y2="580.60" stroke="#ffffff" stroke-opacity="0.25" stroke-width="0.8" stroke-dasharray="1,2"/>
<line x1="1727.80" y1="364.50" x2="1727.80" y2="580.60" stroke="#ffffff" stroke-opacity="0.25" stroke-width="0.8" stroke-dasharray="1,2"/>
<line x1="1760.70" y1="364.50" x2="1760.70" y2="580.60" stroke="#ffffff" stroke-opacity="0.25" stroke-width="0.8" stroke-dasharray="1,2"/>
<line x1="1793.60" y1="364.50" x2="1793.60" y2="580.60" stroke="#ffffff" stroke-opacity="0.25" stroke-width="0.8" stroke-dasharray="1,2"/>
<line x1="1826.50" y1="364.50" x2="1826.50" y2="580.60" stroke="#ffffff" stroke-opacity="0.25" stroke-width="0.8" stroke-dasharray="1,2"/>
<line x1="1859.40" y1="364.50" x2="1859.40" y2="580.60" stroke="#ffffff" stroke-opacity="0.25" stroke-width="0.8" stroke-dasharray="1,2"/>
<line x1="1892.30" y1="364.50" x2="1892.30" y2="580.60" stroke="#ffffff" stroke-opacity="0.25" stroke-width="0.8" stroke-dasharray="1,2"/>
<line x1="1508.50" y1="580.50" x2="1996.90" y2="580.50" stroke="#555" stroke-width="1.1"/>
<line x1="1530.50" y1="580.60" x2="1530.50" y2="582.60" stroke="#555" stroke-width="0.7"/>
<text x="1530.40" y="591.00" font-size="8.9" text-anchor="middle" fill="#444">-16</text>
<line x1="1563.50" y1="580.60" x2="1563.50" y2="582.60" stroke="#555" stroke-width="0.7"/>
<text x="1563.30" y="591.00" font-size="8.9" text-anchor="middle" fill="#444">-14</text>
<line x1="1596.50" y1="580.60" x2="1596.50" y2="582.60" stroke="#555" stroke-width="0.7"/>
<text x="1596.20" y="591.00" font-size="8.9" text-anchor="middle" fill="#444">-12</text>
<line x1="1629.50" y1="580.60" x2="1629.50" y2="582.60" stroke="#555" stroke-width="0.7"/>
<text x="1629.10" y="591.00" font-size="8.9" text-anchor="middle" fill="#444">-10</text>
<line x1="1662.50" y1="580.60" x2="1662.50" y2="582.60" stroke="#555" stroke-width="0.7"/>
<text x="1662.00" y="591.00" font-size="8.9" text-anchor="middle" fill="#444">-8</text>
<line x1="1694.50" y1="580.60" x2="1694.50" y2="582.60" stroke="#555" stroke-width="0.7"/>
<text x="1694.90" y="591.00" font-size="8.9" text-anchor="middle" fill="#444">-6</text>
<line x1="1727.50" y1="580.60" x2="1727.50" y2="582.60" stroke="#555" stroke-width="0.7"/>
<text x="1727.80" y="591.00" font-size="8.9" text-anchor="middle" fill="#444">-4</text>
<line x1="1760.50" y1="580.60" x2="1760.50" y2="582.60" stroke="#555" stroke-width="0.7"/>
<text x="1760.70" y="591.00" font-size="8.9" text-anchor="middle" fill="#444">-2</text>
<line x1="1793.50" y1="580.60" x2="1793.50" y2="582.60" stroke="#555" stroke-width="0.7"/>
<text x="1793.60" y="591.00" font-size="8.9" text-anchor="middle" fill="#444">0</text>
<line x1="1826.50" y1="580.60" x2="1826.50" y2="582.60" stroke="#555" stroke-width="0.7"/>
<text x="1826.50" y="591.00" font-size="8.9" text-anchor="middle" fill="#444">2</text>
<line x1="1859.50" y1="580.60" x2="1859.50" y2="582.60" stroke="#555" stroke-width="0.7"/>
<text x="1859.40" y="591.00" font-size="8.9" text-anchor="middle" fill="#444">4</text>
<line x1="1892.50" y1="580.60" x2="1892.50" y2="582.60" stroke="#555" stroke-width="0.7"/>
<text x="1892.30" y="591.00" font-size="8.9" text-anchor="middle" fill="#444">6</text>
<text x="1752.70" y="601.30" font-size="9" text-anchor="middle" fill="#222" textLength="94.20" lengthAdjust="spacingAndGlyphs">Log Fold Change (LFC)</text>
<rect x="1719.10" y="613.70" width="9.70" height="11.10" fill="#666666"/>
<text x="1733.60" y="622.80" font-size="8.6" fill="#222" textLength="53.00" lengthAdjust="spacingAndGlyphs">Control day 3</text>
<text x="1502.50" y="472.40" font-size="9" text-anchor="middle" fill="#222" transform="rotate(-90 1502.50 472.40)">Species</text>
<text x="972.70" y="652.90" font-size="13" font-weight="bold">k</text>
<text x="1279.70" y="655.40" font-size="14" text-anchor="middle" font-weight="bold">Species</text>
<line x1="1024.60" y1="661.00" x2="1024.60" y2="875.90" stroke="#d4d4d4" stroke-width="0.8" stroke-dasharray="1,2"/>
<line x1="1049.41" y1="661.00" x2="1049.41" y2="875.90" stroke="#d4d4d4" stroke-width="0.8" stroke-dasharray="1,2"/>
<line x1="1074.22" y1="661.00" x2="1074.22" y2="875.90" stroke="#d4d4d4" stroke-width="0.8" stroke-dasharray="1,2"/>
<line x1="1099.03" y1="661.00" x2="1099.03" y2="875.90" stroke="#d4d4d4" stroke-width="0.8" stroke-dasharray="1,2"/>
<line x1="1123.84" y1="661.00" x2="1123.84" y2="875.90" stroke="#d4d4d4" stroke-width="0.8" stroke-dasharray="1,2"/>
<line x1="1148.65" y1="661.00" x2="1148.65" y2="875.90" stroke="#d4d4d4" stroke-width="0.8" stroke-dasharray="1,2"/>
<line x1="1173.46" y1="661.00" x2="1173.46" y2="875.90" stroke="#d4d4d4" stroke-width="0.8" stroke-dasharray="1,2"/>
<line x1="1198.27" y1="661.00" x2="1198.27" y2="875.90" stroke="#d4d4d4" stroke-width="0.8" stroke-dasharray="1,2"/>
<line x1="1223.08" y1="661.00" x2="1223.08" y2="875.90" stroke="#d4d4d4" stroke-width="0.8" stroke-dasharray="1,2"/>
<line x1="1247.89" y1="661.00" x2="1247.89" y2="875.90" stroke="#d4d4d4" stroke-width="0.8" stroke-dasharray="1,2"/>
<line x1="1272.70" y1="661.00" x2="1272.70" y2="875.90" stroke="#d4d4d4" stroke-width="0.8" stroke-dasharray="1,2"/>
<line x1="1297.51" y1="661.00" x2="1297.51" y2="875.90" stroke="#d4d4d4" stroke-width="0.8" stroke-dasharray="1,2"/>
<line x1="1322.32" y1="661.00" x2="1322.32" y2="875.90" stroke="#d4d4d4" stroke-width="0.8" stroke-dasharray="1,2"/>
<line x1="1347.13" y1="661.00" x2="1347.13" y2="875.90" stroke="#d4d4d4" stroke-width="0.8" stroke-dasharray="1,2"/>
<rect x="1272.70" y="662.40" width="55.33" height="7.90" fill="#f2ae9f"/>
<text x="1269.40" y="668.66" font-size="7.7" text-anchor="end" font-style="italic" fill="#111" textLength="83.25" lengthAdjust="spacingAndGlyphs">Moraxella nonliquefaciens</text>
<text x="1426.00" y="668.66" font-size="6.2" text-anchor="end" font-weight="bold" font-style="italic" textLength="33.91" lengthAdjust="spacingAndGlyphs">p = 4.47e-02</text>
<rect x="1272.70" y="671.67" width="48.88" height="7.90" fill="#f2ae9f"/>
<text x="1269.40" y="677.93" font-size="7.7" text-anchor="end" font-style="italic" fill="#111" textLength="87.26" lengthAdjust="spacingAndGlyphs">Streptococcus pneumoniae</text>
<text x="1426.00" y="677.93" font-size="6.2" text-anchor="end" font-weight="bold" font-style="italic" textLength="33.91" lengthAdjust="spacingAndGlyphs">p = 6.70e-03</text>
<rect x="1272.70" y="680.94" width="39.45" height="7.90" fill="#f2ae9f"/>
<text x="1269.40" y="687.20" font-size="7.7" text-anchor="end" font-style="italic" fill="#111" textLength="76.85" lengthAdjust="spacingAndGlyphs">Haemophilus influenzae</text>
<text x="1426.00" y="687.20" font-size="6.2" text-anchor="end" font-weight="bold" font-style="italic" textLength="33.91" lengthAdjust="spacingAndGlyphs">p = 3.28e-02</text>
<rect x="1248.76" y="690.21" width="23.94" height="7.90" fill="#f42b10"/>
<text x="1276.50" y="696.47" font-size="7.7" font-style="italic" fill="#111" textLength="38.82" lengthAdjust="spacingAndGlyphs">Unclassified</text>
<text x="1426.00" y="696.47" font-size="6.2" text-anchor="end" font-weight="bold" font-style="italic" textLength="33.91" lengthAdjust="spacingAndGlyphs">p = 4.00e-03</text>
<rect x="1217.00" y="699.48" width="55.70" height="7.90" fill="#f42b10"/>
<text x="1276.50" y="705.74" font-size="7.7" font-style="italic" fill="#111" textLength="75.64" lengthAdjust="spacingAndGlyphs">Acidovorax carolinensis</text>
<text x="1426.00" y="705.74" font-size="6.2" text-anchor="end" font-weight="bold" font-style="italic" textLength="33.91" lengthAdjust="spacingAndGlyphs">p = 3.05e-02</text>
<rect x="1209.68" y="708.75" width="63.02" height="7.90" fill="#f42b10"/>
<text x="1276.50" y="715.01" font-size="7.7" font-style="italic" fill="#111" textLength="72.44" lengthAdjust="spacingAndGlyphs">Paracoccus onubensis</text>
<text x="1426.00" y="715.01" font-size="6.2" text-anchor="end" font-weight="bold" font-style="italic" textLength="33.91" lengthAdjust="spacingAndGlyphs">p = 3.45e-02</text>
<rect x="1209.06" y="718.02" width="63.64" height="7.90" fill="#f42b10"/>
<text x="1276.50" y="724.28" font-size="7.7" font-style="italic" fill="#111" textLength="82.04" lengthAdjust="spacingAndGlyphs">Aquabacterium commune</text>
<text x="1426.00" y="724.28" font-size="6.2" text-anchor="end" font-weight="bold" font-style="italic" textLength="33.91" lengthAdjust="spacingAndGlyphs">p = 1.03e-05</text>
<rect x="1204.84" y="727.29" width="67.86" height="7.90" fill="#f42b10"/>
<text x="1276.50" y="733.55" font-size="7.7" font-style="italic" fill="#111" textLength="54.02" lengthAdjust="spacingAndGlyphs">Bacillus stercoris</text>
<text x="1426.00" y="733.55" font-size="6.2" text-anchor="end" font-weight="bold" font-style="italic" textLength="33.91" lengthAdjust="spacingAndGlyphs">p = 9.00e-04</text>
<rect x="1181.65" y="736.56" width="91.05" height="7.90" fill="#f42b10"/>
<text x="1276.50" y="742.82" font-size="7.7" font-style="italic" fill="#111" textLength="85.66" lengthAdjust="spacingAndGlyphs">Sphingobium xenophagum</text>
<text x="1426.00" y="742.82" font-size="6.2" text-anchor="end" font-weight="bold" font-style="italic" textLength="33.91" lengthAdjust="spacingAndGlyphs">p = 8.00e-02</text>
<rect x="1110.69" y="745.83" width="162.01" height="7.90" fill="#f42b10"/>
<text x="1276.50" y="752.09" font-size="7.7" font-style="italic" fill="#111" textLength="58.84" lengthAdjust="spacingAndGlyphs">Acinetobacter junii</text>
<text x="1426.00" y="752.09" font-size="6.2" text-anchor="end" font-weight="bold" font-style="italic" textLength="33.91" lengthAdjust="spacingAndGlyphs">p = 3.58e-02</text>
<rect x="1110.32" y="755.10" width="162.38" height="7.90" fill="#f42b10"/>
<text x="1276.50" y="761.36" font-size="7.7" font-style="italic" fill="#111" textLength="81.23" lengthAdjust="spacingAndGlyphs">Brachybacterium faecium</text>
<text x="1426.00" y="761.36" font-size="6.2" text-anchor="end" font-weight="bold" font-style="italic" textLength="33.91" lengthAdjust="spacingAndGlyphs">p = 3.58e-02</text>
<rect x="1109.45" y="764.37" width="163.25" height="7.90" fill="#f42b10"/>
<text x="1276.50" y="770.63" font-size="7.7" font-style="italic" fill="#111" textLength="54.03" lengthAdjust="spacingAndGlyphs">Bosea vaviloviae</text>
<text x="1426.00" y="770.63" font-size="6.2" text-anchor="end" font-weight="bold" font-style="italic" textLength="33.91" lengthAdjust="spacingAndGlyphs">p = 3.58e-02</text>
<rect x="1106.22" y="773.64" width="166.48" height="7.90" fill="#f42b10"/>
<text x="1276.50" y="779.90" font-size="7.7" font-style="italic" fill="#111" textLength="106.07" lengthAdjust="spacingAndGlyphs">Brevundimonas naejangsanensis</text>
<text x="1426.00" y="779.90" font-size="6.2" text-anchor="end" font-weight="bold" font-style="italic" textLength="33.91" lengthAdjust="spacingAndGlyphs">p = 7.80e-03</text>
<rect x="1100.27" y="782.91" width="172.43" height="7.90" fill="#f42b10"/>
<text x="1276.50" y="789.17" font-size="7.7" font-style="italic" fill="#111" textLength="105.25" lengthAdjust="spacingAndGlyphs">Bradyrhizobium australafricanum</text>
<text x="1426.00" y="789.17" font-size="6.2" text-anchor="end" font-weight="bold" font-style="italic" textLength="33.91" lengthAdjust="spacingAndGlyphs">p = 2.10e-02</text>
<rect x="1099.90" y="792.18" width="172.80" height="7.90" fill="#f42b10"/>
<text x="1276.50" y="798.44" font-size="7.7" font-style="italic" fill="#111" textLength="89.23" lengthAdjust="spacingAndGlyphs">Methyloversatilis universalis</text>
<text x="1426.00" y="798.44" font-size="6.2" text-anchor="end" font-weight="bold" font-style="italic" textLength="33.91" lengthAdjust="spacingAndGlyphs">p = 2.10e-02</text>
<rect x="1096.67" y="801.45" width="176.03" height="7.90" fill="#f42b10"/>
<text x="1276.50" y="807.71" font-size="7.7" font-style="italic" fill="#111" textLength="65.63" lengthAdjust="spacingAndGlyphs">Cutibacterium acnes</text>
<text x="1426.00" y="807.71" font-size="6.2" text-anchor="end" font-weight="bold" font-style="italic" textLength="33.91" lengthAdjust="spacingAndGlyphs">p = 3.52e-02</text>
<rect x="1093.57" y="810.72" width="179.13" height="7.90" fill="#f42b10"/>
<text x="1276.50" y="816.98" font-size="7.7" font-style="italic" fill="#111" textLength="80.46" lengthAdjust="spacingAndGlyphs">Sphingomonas sanguinis</text>
<text x="1426.00" y="816.98" font-size="6.2" text-anchor="end" font-weight="bold" font-style="italic" textLength="33.91" lengthAdjust="spacingAndGlyphs">p = 2.10e-02</text>
<rect x="1093.20" y="819.99" width="179.50" height="7.90" fill="#f42b10"/>
<text x="1276.50" y="826.25" font-size="7.7" font-style="italic" fill="#111" textLength="44.83" lengthAdjust="spacingAndGlyphs">Brucella lupini</text>
<text x="1426.00" y="826.25" font-size="6.2" text-anchor="end" font-weight="bold" font-style="italic" textLength="33.91" lengthAdjust="spacingAndGlyphs">p = 3.58e-02</text>
<rect x="1091.96" y="829.26" width="180.74" height="7.90" fill="#f42b10"/>
<text x="1276.50" y="835.52" font-size="7.7" font-style="italic" fill="#111" textLength="66.83" lengthAdjust="spacingAndGlyphs">Brevibacterium casei</text>
<text x="1426.00" y="835.52" font-size="6.2" text-anchor="end" font-weight="bold" font-style="italic" textLength="33.91" lengthAdjust="spacingAndGlyphs">p = 4.05e-02</text>
<rect x="1064.54" y="838.53" width="208.16" height="7.90" fill="#f42b10"/>
<text x="1276.50" y="844.79" font-size="7.7" font-style="italic" fill="#111" textLength="69.37" lengthAdjust="spacingAndGlyphs">Tsukamurella hominis</text>
<text x="1426.00" y="844.79" font-size="6.2" text-anchor="end" font-weight="bold" font-style="italic" textLength="33.91" lengthAdjust="spacingAndGlyphs">p = 3.58e-02</text>
<rect x="1056.85" y="847.80" width="215.85" height="7.90" fill="#f42b10"/>
<text x="1276.50" y="854.06" font-size="7.7" font-style="italic" fill="#111" textLength="102.46" lengthAdjust="spacingAndGlyphs">Alkalihalobacillus rhizosphaerae</text>
<text x="1426.00" y="854.06" font-size="6.2" text-anchor="end" font-weight="bold" font-style="italic" textLength="33.91" lengthAdjust="spacingAndGlyphs">p = 3.58e-02</text>
<rect x="1045.56" y="857.07" width="227.14" height="7.90" fill="#f42b10"/>
<text x="1276.50" y="863.33" font-size="7.7" font-style="italic" fill="#111" textLength="52.02" lengthAdjust="spacingAndGlyphs">Bacillus tropicus</text>
<text x="1426.00" y="863.33" font-size="6.2" text-anchor="end" font-weight="bold" font-style="italic" textLength="33.91" lengthAdjust="spacingAndGlyphs">p = 3.58e-02</text>
<rect x="1033.16" y="866.34" width="239.54" height="7.90" fill="#f42b10"/>
<text x="1276.50" y="872.60" font-size="7.7" font-style="italic" fill="#111" textLength="48.82" lengthAdjust="spacingAndGlyphs">Bacillus subtilis</text>
<text x="1426.00" y="872.60" font-size="6.2" text-anchor="end" font-weight="bold" font-style="italic" textLength="33.91" lengthAdjust="spacingAndGlyphs">p = 1.00e-02</text>
<line x1="1024.60" y1="661.00" x2="1024.60" y2="875.90" stroke="#ffffff" stroke-opacity="0.25" stroke-width="0.8" stroke-dasharray="1,2"/>
<line x1="1049.41" y1="661.00" x2="1049.41" y2="875.90" stroke="#ffffff" stroke-opacity="0.25" stroke-width="0.8" stroke-dasharray="1,2"/>
<line x1="1074.22" y1="661.00" x2="1074.22" y2="875.90" stroke="#ffffff" stroke-opacity="0.25" stroke-width="0.8" stroke-dasharray="1,2"/>
<line x1="1099.03" y1="661.00" x2="1099.03" y2="875.90" stroke="#ffffff" stroke-opacity="0.25" stroke-width="0.8" stroke-dasharray="1,2"/>
<line x1="1123.84" y1="661.00" x2="1123.84" y2="875.90" stroke="#ffffff" stroke-opacity="0.25" stroke-width="0.8" stroke-dasharray="1,2"/>
<line x1="1148.65" y1="661.00" x2="1148.65" y2="875.90" stroke="#ffffff" stroke-opacity="0.25" stroke-width="0.8" stroke-dasharray="1,2"/>
<line x1="1173.46" y1="661.00" x2="1173.46" y2="875.90" stroke="#ffffff" stroke-opacity="0.25" stroke-width="0.8" stroke-dasharray="1,2"/>
<line x1="1198.27" y1="661.00" x2="1198.27" y2="875.90" stroke="#ffffff" stroke-opacity="0.25" stroke-width="0.8" stroke-dasharray="1,2"/>
<line x1="1223.08" y1="661.00" x2="1223.08" y2="875.90" stroke="#ffffff" stroke-opacity="0.25" stroke-width="0.8" stroke-dasharray="1,2"/>
<line x1="1247.89" y1="661.00" x2="1247.89" y2="875.90" stroke="#ffffff" stroke-opacity="0.25" stroke-width="0.8" stroke-dasharray="1,2"/>
<line x1="1272.70" y1="661.00" x2="1272.70" y2="875.90" stroke="#ffffff" stroke-opacity="0.25" stroke-width="0.8" stroke-dasharray="1,2"/>
<line x1="1297.51" y1="661.00" x2="1297.51" y2="875.90" stroke="#ffffff" stroke-opacity="0.25" stroke-width="0.8" stroke-dasharray="1,2"/>
<line x1="1322.32" y1="661.00" x2="1322.32" y2="875.90" stroke="#ffffff" stroke-opacity="0.25" stroke-width="0.8" stroke-dasharray="1,2"/>
<line x1="1347.13" y1="661.00" x2="1347.13" y2="875.90" stroke="#ffffff" stroke-opacity="0.25" stroke-width="0.8" stroke-dasharray="1,2"/>
<line x1="1006.10" y1="875.50" x2="1427.60" y2="875.50" stroke="#555" stroke-width="1.1"/>
<line x1="1024.50" y1="875.90" x2="1024.50" y2="877.90" stroke="#555" stroke-width="0.7"/>
<text x="1024.60" y="884.50" font-size="6.9" text-anchor="middle" fill="#444">-20</text>
<line x1="1049.50" y1="875.90" x2="1049.50" y2="877.90" stroke="#555" stroke-width="0.7"/>
<text x="1049.41" y="884.50" font-size="6.9" text-anchor="middle" fill="#444">-18</text>
<line x1="1074.50" y1="875.90" x2="1074.50" y2="877.90" stroke="#555" stroke-width="0.7"/>
<text x="1074.22" y="884.50" font-size="6.9" text-anchor="middle" fill="#444">-16</text>
<line x1="1099.50" y1="875.90" x2="1099.50" y2="877.90" stroke="#555" stroke-width="0.7"/>
<text x="1099.03" y="884.50" font-size="6.9" text-anchor="middle" fill="#444">-14</text>
<line x1="1123.50" y1="875.90" x2="1123.50" y2="877.90" stroke="#555" stroke-width="0.7"/>
<text x="1123.84" y="884.50" font-size="6.9" text-anchor="middle" fill="#444">-12</text>
<line x1="1148.50" y1="875.90" x2="1148.50" y2="877.90" stroke="#555" stroke-width="0.7"/>
<text x="1148.65" y="884.50" font-size="6.9" text-anchor="middle" fill="#444">-10</text>
<line x1="1173.50" y1="875.90" x2="1173.50" y2="877.90" stroke="#555" stroke-width="0.7"/>
<text x="1173.46" y="884.50" font-size="6.9" text-anchor="middle" fill="#444">-8</text>
<line x1="1198.50" y1="875.90" x2="1198.50" y2="877.90" stroke="#555" stroke-width="0.7"/>
<text x="1198.27" y="884.50" font-size="6.9" text-anchor="middle" fill="#444">-6</text>
<line x1="1223.50" y1="875.90" x2="1223.50" y2="877.90" stroke="#555" stroke-width="0.7"/>
<text x="1223.08" y="884.50" font-size="6.9" text-anchor="middle" fill="#444">-4</text>
<line x1="1247.50" y1="875.90" x2="1247.50" y2="877.90" stroke="#555" stroke-width="0.7"/>
<text x="1247.89" y="884.50" font-size="6.9" text-anchor="middle" fill="#444">-2</text>
<line x1="1272.50" y1="875.90" x2="1272.50" y2="877.90" stroke="#555" stroke-width="0.7"/>
<text x="1272.70" y="884.50" font-size="6.9" text-anchor="middle" fill="#444">0</text>
<line x1="1297.50" y1="875.90" x2="1297.50" y2="877.90" stroke="#555" stroke-width="0.7"/>
<text x="1297.51" y="884.50" font-size="6.9" text-anchor="middle" fill="#444">2</text>
<line x1="1322.50" y1="875.90" x2="1322.50" y2="877.90" stroke="#555" stroke-width="0.7"/>
<text x="1322.32" y="884.50" font-size="6.9" text-anchor="middle" fill="#444">4</text>
<line x1="1347.50" y1="875.90" x2="1347.50" y2="877.90" stroke="#555" stroke-width="0.7"/>
<text x="1347.13" y="884.50" font-size="6.9" text-anchor="middle" fill="#444">6</text>
<text x="1217.00" y="894.60" font-size="7.8" text-anchor="middle" fill="#222" textLength="74.70" lengthAdjust="spacingAndGlyphs">Log Fold Change (LFC)</text>
<rect x="1165.20" y="906.70" width="7.90" height="8.90" fill="#f2ae9f"/>
<text x="1176.30" y="913.60" font-size="8.6" fill="#222" textLength="39.10" lengthAdjust="spacingAndGlyphs">Navax day 0</text>
<rect x="1219.20" y="906.70" width="7.30" height="8.90" fill="#f42b10"/>
<text x="1229.70" y="913.60" font-size="8.6" fill="#222" textLength="39.50" lengthAdjust="spacingAndGlyphs">Navax day 3</text>
<text x="1001.20" y="768.40" font-size="8.4" text-anchor="middle" fill="#222" transform="rotate(-90 1001.20 768.40)">Species</text>
<text x="1475.20" y="652.90" font-size="13" font-weight="bold">l</text>
<text x="1791.90" y="652.90" font-size="14" text-anchor="middle" font-weight="bold">Species</text>
<line x1="1508.40" y1="673.00" x2="1508.40" y2="878.20" stroke="#d4d4d4" stroke-width="0.8" stroke-dasharray="1,2"/>
<line x1="1537.45" y1="673.00" x2="1537.45" y2="878.20" stroke="#d4d4d4" stroke-width="0.8" stroke-dasharray="1,2"/>
<line x1="1566.50" y1="673.00" x2="1566.50" y2="878.20" stroke="#d4d4d4" stroke-width="0.8" stroke-dasharray="1,2"/>
<line x1="1595.55" y1="673.00" x2="1595.55" y2="878.20" stroke="#d4d4d4" stroke-width="0.8" stroke-dasharray="1,2"/>
<line x1="1624.60" y1="673.00" x2="1624.60" y2="878.20" stroke="#d4d4d4" stroke-width="0.8" stroke-dasharray="1,2"/>
<line x1="1653.65" y1="673.00" x2="1653.65" y2="878.20" stroke="#d4d4d4" stroke-width="0.8" stroke-dasharray="1,2"/>
<line x1="1682.70" y1="673.00" x2="1682.70" y2="878.20" stroke="#d4d4d4" stroke-width="0.8" stroke-dasharray="1,2"/>
<line x1="1711.75" y1="673.00" x2="1711.75" y2="878.20" stroke="#d4d4d4" stroke-width="0.8" stroke-dasharray="1,2"/>
<line x1="1740.80" y1="673.00" x2="1740.80" y2="878.20" stroke="#d4d4d4" stroke-width="0.8" stroke-dasharray="1,2"/>
<line x1="1769.85" y1="673.00" x2="1769.85" y2="878.20" stroke="#d4d4d4" stroke-width="0.8" stroke-dasharray="1,2"/>
<line x1="1798.90" y1="673.00" x2="1798.90" y2="878.20" stroke="#d4d4d4" stroke-width="0.8" stroke-dasharray="1,2"/>
<line x1="1827.95" y1="673.00" x2="1827.95" y2="878.20" stroke="#d4d4d4" stroke-width="0.8" stroke-dasharray="1,2"/>
<line x1="1857.00" y1="673.00" x2="1857.00" y2="878.20" stroke="#d4d4d4" stroke-width="0.8" stroke-dasharray="1,2"/>
<line x1="1886.05" y1="673.00" x2="1886.05" y2="878.20" stroke="#d4d4d4" stroke-width="0.8" stroke-dasharray="1,2"/>
<rect x="1798.90" y="679.30" width="49.82" height="35.30" fill="#666666"/>
<text x="1795.60" y="699.74" font-size="9.3" text-anchor="end" font-style="italic" fill="#111" textLength="92.01" lengthAdjust="spacingAndGlyphs">Haemophilus influenzae</text>
<text x="1950.00" y="699.74" font-size="7.3" text-anchor="end" font-weight="bold" font-style="italic" textLength="40.52" lengthAdjust="spacingAndGlyphs">p = 3.58e-02</text>
<rect x="1736.88" y="718.70" width="62.02" height="35.30" fill="#f42b10"/>
<text x="1802.70" y="739.14" font-size="9.3" font-style="italic" fill="#111" textLength="80.01" lengthAdjust="spacingAndGlyphs">Brevibacterium casei</text>
<text x="1950.00" y="739.14" font-size="7.3" text-anchor="end" font-weight="bold" font-style="italic" textLength="40.52" lengthAdjust="spacingAndGlyphs">p = 8.51e-03</text>
<rect x="1588.87" y="758.10" width="210.03" height="35.30" fill="#f42b10"/>
<text x="1802.70" y="778.54" font-size="9.3" font-style="italic" fill="#111" textLength="96.33" lengthAdjust="spacingAndGlyphs">Sphingomonas sanguinis</text>
<text x="1950.00" y="778.54" font-size="7.3" text-anchor="end" font-weight="bold" font-style="italic" textLength="40.52" lengthAdjust="spacingAndGlyphs">p = 1.32e-02</text>
<rect x="1532.95" y="797.50" width="265.95" height="35.30" fill="#f42b10"/>
<text x="1802.70" y="817.94" font-size="9.3" font-style="italic" fill="#111" textLength="62.28" lengthAdjust="spacingAndGlyphs">Bacillus tropicus</text>
<text x="1950.00" y="817.94" font-size="7.3" text-anchor="end" font-weight="bold" font-style="italic" textLength="40.52" lengthAdjust="spacingAndGlyphs">p = 3.58e-02</text>
<rect x="1507.53" y="836.90" width="291.37" height="35.30" fill="#f42b10"/>
<text x="1802.70" y="857.34" font-size="9.3" font-style="italic" fill="#111" textLength="64.67" lengthAdjust="spacingAndGlyphs">Bacillus stercoris</text>
<text x="1950.00" y="857.34" font-size="7.3" text-anchor="end" font-weight="bold" font-style="italic" textLength="40.52" lengthAdjust="spacingAndGlyphs">p = 9.02e-05</text>
<line x1="1508.40" y1="673.00" x2="1508.40" y2="878.20" stroke="#ffffff" stroke-opacity="0.25" stroke-width="0.8" stroke-dasharray="1,2"/>
<line x1="1537.45" y1="673.00" x2="1537.45" y2="878.20" stroke="#ffffff" stroke-opacity="0.25" stroke-width="0.8" stroke-dasharray="1,2"/>
<line x1="1566.50" y1="673.00" x2="1566.50" y2="878.20" stroke="#ffffff" stroke-opacity="0.25" stroke-width="0.8" stroke-dasharray="1,2"/>
<line x1="1595.55" y1="673.00" x2="1595.55" y2="878.20" stroke="#ffffff" stroke-opacity="0.25" stroke-width="0.8" stroke-dasharray="1,2"/>
<line x1="1624.60" y1="673.00" x2="1624.60" y2="878.20" stroke="#ffffff" stroke-opacity="0.25" stroke-width="0.8" stroke-dasharray="1,2"/>
<line x1="1653.65" y1="673.00" x2="1653.65" y2="878.20" stroke="#ffffff" stroke-opacity="0.25" stroke-width="0.8" stroke-dasharray="1,2"/>
<line x1="1682.70" y1="673.00" x2="1682.70" y2="878.20" stroke="#ffffff" stroke-opacity="0.25" stroke-width="0.8" stroke-dasharray="1,2"/>
<line x1="1711.75" y1="673.00" x2="1711.75" y2="878.20" stroke="#ffffff" stroke-opacity="0.25" stroke-width="0.8" stroke-dasharray="1,2"/>
<line x1="1740.80" y1="673.00" x2="1740.80" y2="878.20" stroke="#ffffff" stroke-opacity="0.25" stroke-width="0.8" stroke-dasharray="1,2"/>
<line x1="1769.85" y1="673.00" x2="1769.85" y2="878.20" stroke="#ffffff" stroke-opacity="0.25" stroke-width="0.8" stroke-dasharray="1,2"/>
<line x1="1798.90" y1="673.00" x2="1798.90" y2="878.20" stroke="#ffffff" stroke-opacity="0.25" stroke-width="0.8" stroke-dasharray="1,2"/>
<line x1="1827.95" y1="673.00" x2="1827.95" y2="878.20" stroke="#ffffff" stroke-opacity="0.25" stroke-width="0.8" stroke-dasharray="1,2"/>
<line x1="1857.00" y1="673.00" x2="1857.00" y2="878.20" stroke="#ffffff" stroke-opacity="0.25" stroke-width="0.8" stroke-dasharray="1,2"/>
<line x1="1886.05" y1="673.00" x2="1886.05" y2="878.20" stroke="#ffffff" stroke-opacity="0.25" stroke-width="0.8" stroke-dasharray="1,2"/>
<line x1="1486.10" y1="878.50" x2="1950.70" y2="878.50" stroke="#555" stroke-width="1.1"/>
<line x1="1508.50" y1="878.20" x2="1508.50" y2="880.20" stroke="#555" stroke-width="0.7"/>
<text x="1508.40" y="887.70" font-size="8.4" text-anchor="middle" fill="#444">-20</text>
<line x1="1537.50" y1="878.20" x2="1537.50" y2="880.20" stroke="#555" stroke-width="0.7"/>
<text x="1537.45" y="887.70" font-size="8.4" text-anchor="middle" fill="#444">-18</text>
<line x1="1566.50" y1="878.20" x2="1566.50" y2="880.20" stroke="#555" stroke-width="0.7"/>
<text x="1566.50" y="887.70" font-size="8.4" text-anchor="middle" fill="#444">-16</text>
<line x1="1595.50" y1="878.20" x2="1595.50" y2="880.20" stroke="#555" stroke-width="0.7"/>
<text x="1595.55" y="887.70" font-size="8.4" text-anchor="middle" fill="#444">-14</text>
<line x1="1624.50" y1="878.20" x2="1624.50" y2="880.20" stroke="#555" stroke-width="0.7"/>
<text x="1624.60" y="887.70" font-size="8.4" text-anchor="middle" fill="#444">-12</text>
<line x1="1653.50" y1="878.20" x2="1653.50" y2="880.20" stroke="#555" stroke-width="0.7"/>
<text x="1653.65" y="887.70" font-size="8.4" text-anchor="middle" fill="#444">-10</text>
<line x1="1682.50" y1="878.20" x2="1682.50" y2="880.20" stroke="#555" stroke-width="0.7"/>
<text x="1682.70" y="887.70" font-size="8.4" text-anchor="middle" fill="#444">-8</text>
<line x1="1711.50" y1="878.20" x2="1711.50" y2="880.20" stroke="#555" stroke-width="0.7"/>
<text x="1711.75" y="887.70" font-size="8.4" text-anchor="middle" fill="#444">-6</text>
<line x1="1740.50" y1="878.20" x2="1740.50" y2="880.20" stroke="#555" stroke-width="0.7"/>
<text x="1740.80" y="887.70" font-size="8.4" text-anchor="middle" fill="#444">-4</text>
<line x1="1769.50" y1="878.20" x2="1769.50" y2="880.20" stroke="#555" stroke-width="0.7"/>
<text x="1769.85" y="887.70" font-size="8.4" text-anchor="middle" fill="#444">-2</text>
<line x1="1798.50" y1="878.20" x2="1798.50" y2="880.20" stroke="#555" stroke-width="0.7"/>
<text x="1798.90" y="887.70" font-size="8.4" text-anchor="middle" fill="#444">0</text>
<line x1="1827.50" y1="878.20" x2="1827.50" y2="880.20" stroke="#555" stroke-width="0.7"/>
<text x="1827.95" y="887.70" font-size="8.4" text-anchor="middle" fill="#444">2</text>
<line x1="1857.50" y1="878.20" x2="1857.50" y2="880.20" stroke="#555" stroke-width="0.7"/>
<text x="1857.00" y="887.70" font-size="8.4" text-anchor="middle" fill="#444">4</text>
<line x1="1886.50" y1="878.20" x2="1886.50" y2="880.20" stroke="#555" stroke-width="0.7"/>
<text x="1886.05" y="887.70" font-size="8.4" text-anchor="middle" fill="#444">6</text>
<text x="1718.40" y="897.90" font-size="8.5" text-anchor="middle" fill="#222" textLength="89.10" lengthAdjust="spacingAndGlyphs">Log Fold Change (LFC)</text>
<rect x="1654.10" y="910.00" width="9.60" height="10.20" fill="#666666"/>
<text x="1667.50" y="918.20" font-size="8.6" fill="#222" textLength="50.30" lengthAdjust="spacingAndGlyphs">Control day 3</text>
<rect x="1722.20" y="910.00" width="9.60" height="10.20" fill="#f42b10"/>
<text x="1735.30" y="918.20" font-size="8.6" fill="#222" textLength="46.70" lengthAdjust="spacingAndGlyphs">Navax day 3</text>
<text x="1481.50" y="775.70" font-size="9" text-anchor="middle" fill="#222" transform="rotate(-90 1481.50 775.70)">Species</text>
</svg>
</body></html>
